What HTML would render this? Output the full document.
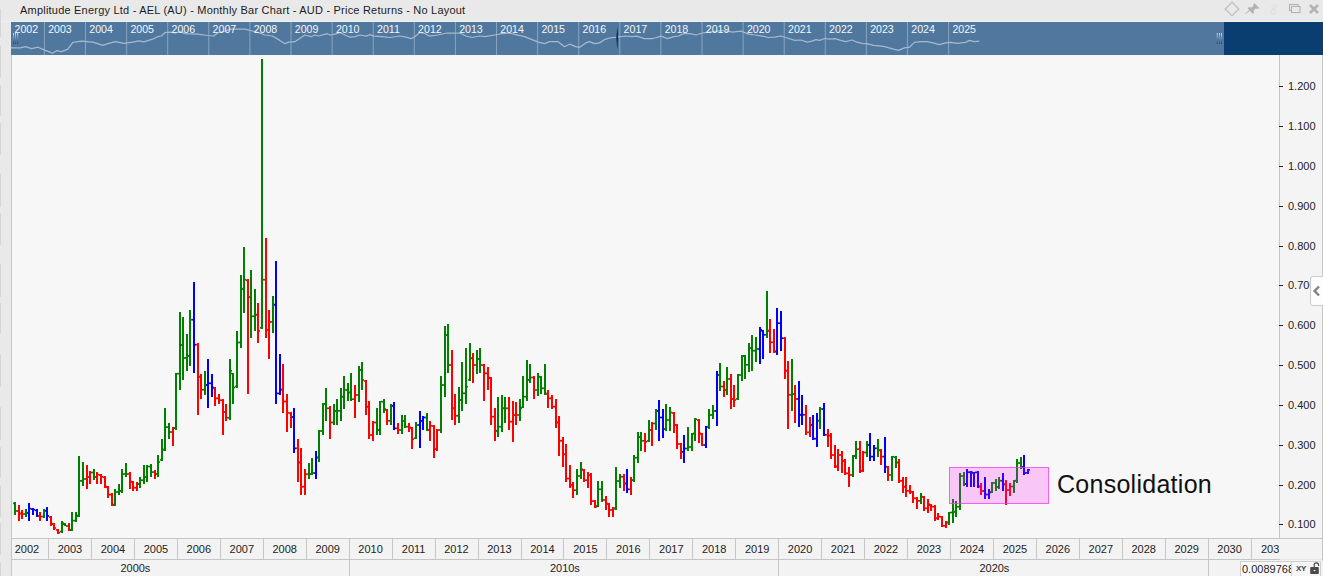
<!DOCTYPE html>
<html><head><meta charset="utf-8"><title>chart</title>
<style>
html,body{margin:0;padding:0;}
body{width:1323px;height:576px;overflow:hidden;background:#e9e9e9;position:relative;font-family:"Liberation Sans",sans-serif;color:#222;}
.abs{position:absolute;}
#title{left:20px;top:3px;font-size:11px;line-height:14px;white-space:nowrap;color:#1c1c1c;letter-spacing:0.21px;}
#nav{left:11px;top:22px;width:1312px;height:33px;background:#50789f;overflow:hidden;}
#navdark{left:1224px;top:22px;width:99px;height:33px;background:#0a3d70;}
.ny{position:absolute;top:0px;font-size:10.6px;line-height:15px;color:#f4f6f8;}
.nd{position:absolute;top:0;width:1px;height:33px;background:#8fa8c2;}
#plot{left:12px;top:55px;width:1267px;height:483px;background:#f7f7f7;}
#yaxis{left:1280px;top:55px;width:43px;height:483px;background:#f4f4f4;}
.yl{position:absolute;left:1288px;font-size:11px;line-height:12px;color:#222;white-space:nowrap;}
.yt{position:absolute;left:1279px;width:4px;height:1px;background:#222;}
#xrow{left:12px;top:539px;width:1311px;height:20px;background:#f3f3f3;}
#drow{left:12px;top:560px;width:1311px;height:16px;background:#f3f3f3;}
.xl{position:absolute;top:543px;width:40px;margin-left:-20px;text-align:center;font-size:11px;line-height:13px;color:#222;}
.dl{position:absolute;top:562px;width:40px;margin-left:-19px;text-align:center;font-size:11px;line-height:13px;color:#222;}
.xd{position:absolute;top:539px;width:1px;height:20px;background:#c6c6c6;}
.dd{position:absolute;top:560px;width:1px;height:16px;background:#c6c6c6;}
.ln{position:absolute;background:#c6c6c6;}
</style></head><body>
<div id="title" class="abs">Amplitude Energy Ltd - AEL (AU) - Monthly Bar Chart - AUD - Price Returns - No Layout</div>
<svg class="abs" style="left:1220px;top:0" width="103" height="21" viewBox="1220 0 103 21">
<path d="M1232 2.2 L1238.8 9 L1232 15.8 L1225.2 9 Z" fill="none" stroke="#b9b9b9" stroke-width="1.1"/>
<g fill="#b3b3b3" stroke="none"><path d="M1254.5 3.2 L1259.6 8.2 L1258 8.8 L1255.6 8.6 L1253.8 10.6 L1254 13.6 L1252.6 13.8 L1247.6 8.2 L1248.6 7.2 L1251.4 7.6 L1253.6 5.8 L1253.4 4 Z"/><path d="M1250.2 10.6 L1245.4 14 L1245.2 13.6 L1249.4 9.8 Z"/></g>
<g fill="none" stroke="#dcdcdc" stroke-width="0.9"><ellipse cx="1274.2" cy="6.6" rx="2.6" ry="1.5" transform="rotate(-35 1274.2 6.6)"/><ellipse cx="1273.4" cy="12" rx="2.3" ry="2.6"/></g>
<rect x="1289.5" y="4.5" width="8.5" height="6" fill="none" stroke="#b3b3b3" stroke-width="1.1"/>
<rect x="1291.5" y="6.5" width="8.5" height="6" fill="#e9e9e9" stroke="#b3b3b3" stroke-width="1.1"/>
<path d="M1310 5 L1318 13 M1318 5 L1310 13" stroke="#b3b3b3" stroke-width="2.6" fill="none"/>
</svg>
<div class="abs" style="left:0;top:21px;width:1323px;height:1px;background:#f0f0f0"></div>
<div class="abs" style="left:0;top:9px;width:1px;height:28px;background:#d6d6d6"></div>
<div class="abs" style="left:0;top:46px;width:1px;height:31.5px;background:#d6d6d6"></div>
<div class="abs" style="left:0;top:85px;width:1px;height:31px;background:#d6d6d6"></div>
<div class="abs" style="left:0;top:122.5px;width:1px;height:32.5px;background:#d6d6d6"></div>
<div class="abs" style="left:0;top:174px;width:1px;height:32.5px;background:#d6d6d6"></div>
<div class="abs" style="left:0;top:212.75px;width:1px;height:32.25px;background:#d6d6d6"></div>
<div class="abs" style="left:0;top:264px;width:1px;height:33px;background:#d6d6d6"></div>
<div class="abs" style="left:0;top:303px;width:1px;height:31px;background:#d6d6d6"></div>
<div class="abs" style="left:0;top:354px;width:1px;height:33px;background:#d6d6d6"></div>
<div class="abs" style="left:0;top:407px;width:1px;height:32.5px;background:#d6d6d6"></div>
<div class="abs" style="left:0;top:447px;width:1px;height:31px;background:#d6d6d6"></div>
<div class="abs" style="left:0;top:486px;width:1px;height:31px;background:#d6d6d6"></div>
<div class="abs" style="left:0;top:523px;width:1px;height:31.5px;background:#d6d6d6"></div>
<div class="abs" style="left:0;top:562px;width:1px;height:14px;background:#d6d6d6"></div>
<div id="nav" class="abs"></div><div id="navdark" class="abs"></div>
<svg class="abs" style="left:0;top:22px" width="1323" height="33" viewBox="0 22 1323 33">
<defs><linearGradient id="gd" x1="0" y1="0" x2="0" y2="1"><stop offset="0" stop-color="#e8eef4"/><stop offset="1" stop-color="#2a3038"/></linearGradient></defs>
<rect x="43.9" y="22" width="1" height="33" fill="#8aa4bf"/>
<rect x="85.0" y="22" width="1" height="33" fill="#8aa4bf"/>
<rect x="126.1" y="22" width="1" height="33" fill="#8aa4bf"/>
<rect x="167.2" y="22" width="1" height="33" fill="#8aa4bf"/>
<rect x="208.3" y="22" width="1" height="33" fill="#8aa4bf"/>
<rect x="249.4" y="22" width="1" height="33" fill="#8aa4bf"/>
<rect x="290.5" y="22" width="1" height="33" fill="#8aa4bf"/>
<rect x="331.6" y="22" width="1" height="33" fill="#8aa4bf"/>
<rect x="372.7" y="22" width="1" height="33" fill="#8aa4bf"/>
<rect x="413.8" y="22" width="1" height="33" fill="#8aa4bf"/>
<rect x="454.9" y="22" width="1" height="33" fill="#8aa4bf"/>
<rect x="496.0" y="22" width="1" height="33" fill="#8aa4bf"/>
<rect x="537.1" y="22" width="1" height="33" fill="#8aa4bf"/>
<rect x="578.2" y="22" width="1" height="33" fill="#8aa4bf"/>
<rect x="619.3" y="22" width="1" height="33" fill="#8aa4bf"/>
<rect x="660.4" y="22" width="1" height="33" fill="#8aa4bf"/>
<rect x="701.5" y="22" width="1" height="33" fill="#8aa4bf"/>
<rect x="742.6" y="22" width="1" height="33" fill="#8aa4bf"/>
<rect x="783.7" y="22" width="1" height="33" fill="#8aa4bf"/>
<rect x="824.8" y="22" width="1" height="33" fill="#8aa4bf"/>
<rect x="865.9" y="22" width="1" height="33" fill="#8aa4bf"/>
<rect x="907.0" y="22" width="1" height="33" fill="#8aa4bf"/>
<rect x="948.1" y="22" width="1" height="33" fill="#8aa4bf"/>
<polyline fill="none" stroke="#a5b9ce" stroke-width="1.25" stroke-linejoin="round" points="11.0,47.9 20.5,47.9 25.5,46.7 31.7,48.7 37.9,47.2 45.4,50.4 52.4,53.2 56.6,50.7 61.6,51.7 67.9,49.2 72.9,42.4 81.6,41.2 92.8,42.2 102.8,45.4 107.8,43.7 115.3,41.7 124.0,43.4 132.7,42.2 139.0,40.9 143.9,41.9 152.7,39.2 157.7,36.7 161.4,36.0 165.1,32.5 170.1,32.2 175.1,33.0 180.1,31.7 185.1,33.7 197.6,34.2 207.6,35.5 213.8,36.0 217.5,33.0 225.0,31.0 230.0,29.2 245.0,29.2 252.4,31.0 259.9,33.0 264.9,35.0 272.4,36.0 279.9,40.4 284.9,43.7 288.6,42.2 294.9,41.7 304.8,35.0 311.1,36.7 314.8,35.0 318.6,36.0 327.3,33.7 330.0,35.0 335.0,34.2 340.0,32.5 345.0,35.0 350.0,37.2 354.9,36.7 359.9,35.0 366.2,36.2 369.9,34.7 373.7,36.2 382.4,36.7 389.9,37.5 399.8,36.0 406.1,37.2 411.1,38.7 414.8,36.7 419.8,32.5 424.8,33.5 429.8,36.2 437.3,35.0 447.2,33.0 459.7,33.0 465.9,36.0 472.2,37.5 479.7,36.0 484.7,36.7 494.6,35.0 502.1,33.7 509.6,33.0 515.8,34.7 524.6,36.7 532.0,39.7 538.3,42.2 544.5,43.7 549.5,41.7 558.2,41.7 564.5,46.7 569.5,44.2 575.7,46.7 579.4,47.4 585.7,42.9 589.4,41.7 594.4,43.7 599.4,42.9 604.4,39.7 609.4,38.0 616.9,37.2 625.6,36.0 631.8,36.7 636.8,36.2 644.3,38.7 651.8,38.7 655.0,38.0 661.2,36.2 667.5,38.7 673.7,36.7 678.7,36.0 683.7,33.5 689.9,33.7 696.2,35.0 702.4,33.0 708.6,32.2 717.4,31.2 724.8,30.5 732.3,32.2 741.1,31.2 748.5,34.2 754.8,35.0 762.3,36.2 768.5,37.5 774.7,37.2 781.0,36.0 787.2,38.0 794.7,40.4 800.9,40.0 807.2,42.2 812.1,41.2 815.9,39.7 819.6,40.4 824.6,38.5 829.6,39.2 834.6,38.7 840.8,40.4 845.8,41.7 852.1,40.0 857.0,42.2 862.0,43.4 867.0,43.7 873.3,45.4 879.5,45.9 884.5,46.7 890.7,48.4 898.2,50.4 904.4,47.9 909.4,47.2 914.4,42.4 920.7,41.7 926.9,41.7 933.1,42.9 939.4,44.7 945.6,42.9 950.6,42.4 958.1,43.4 965.6,42.4 969.3,40.4 974.3,41.7 979.3,41.2"/>
<rect x="13.1" y="33" width="0.8" height="11" fill="url(#gd)"/>
<rect x="15.2" y="33" width="0.8" height="11" fill="url(#gd)"/>
<rect x="17.3" y="33" width="0.8" height="11" fill="url(#gd)"/>
<rect x="1216.8" y="33" width="0.8" height="11" fill="url(#gd)"/>
<rect x="1219.0" y="33" width="0.8" height="11" fill="url(#gd)"/>
<rect x="1221.2" y="33" width="0.8" height="11" fill="url(#gd)"/>
<polygon points="617.2,26.5 618,37.5 617.2,49.5 616.4,37.5" fill="#08121e" opacity="0.9"/>
</svg>
<div class="ny abs" style="left:14.5px;top:22px">2002</div>
<div class="ny abs" style="left:48.2px;top:22px">2003</div>
<div class="ny abs" style="left:89.3px;top:22px">2004</div>
<div class="ny abs" style="left:130.4px;top:22px">2005</div>
<div class="ny abs" style="left:171.5px;top:22px">2006</div>
<div class="ny abs" style="left:212.6px;top:22px">2007</div>
<div class="ny abs" style="left:253.7px;top:22px">2008</div>
<div class="ny abs" style="left:294.8px;top:22px">2009</div>
<div class="ny abs" style="left:335.9px;top:22px">2010</div>
<div class="ny abs" style="left:377.0px;top:22px">2011</div>
<div class="ny abs" style="left:418.1px;top:22px">2012</div>
<div class="ny abs" style="left:459.2px;top:22px">2013</div>
<div class="ny abs" style="left:500.3px;top:22px">2014</div>
<div class="ny abs" style="left:541.4px;top:22px">2015</div>
<div class="ny abs" style="left:582.5px;top:22px">2016</div>
<div class="ny abs" style="left:623.6px;top:22px">2017</div>
<div class="ny abs" style="left:664.7px;top:22px">2018</div>
<div class="ny abs" style="left:705.8px;top:22px">2019</div>
<div class="ny abs" style="left:746.9px;top:22px">2020</div>
<div class="ny abs" style="left:788.0px;top:22px">2021</div>
<div class="ny abs" style="left:829.1px;top:22px">2022</div>
<div class="ny abs" style="left:870.2px;top:22px">2023</div>
<div class="ny abs" style="left:911.3px;top:22px">2024</div>
<div class="ny abs" style="left:952.4px;top:22px">2025</div>
<div id="plot" class="abs"></div><div id="yaxis" class="abs"></div>
<div id="xrow" class="abs"></div><div id="drow" class="abs"></div>
<div class="ln" style="left:11px;top:55px;width:1px;height:521px;"></div>
<div class="ln" style="left:1279px;top:55px;width:1px;height:484px;"></div>
<div class="ln" style="left:1322px;top:55px;width:1px;height:506px;"></div>
<div class="ln" style="left:11px;top:538px;width:1312px;height:1px;"></div>
<div class="ln" style="left:11px;top:559px;width:1269px;height:1px;"></div>
<div class="yt" style="top:524px"></div>
<div class="yl" style="top:518.2px">0.100</div>
<div class="yt" style="top:485px"></div>
<div class="yl" style="top:479.2px">0.200</div>
<div class="yt" style="top:445px"></div>
<div class="yl" style="top:439.2px">0.300</div>
<div class="yt" style="top:405px"></div>
<div class="yl" style="top:399.2px">0.400</div>
<div class="yt" style="top:365px"></div>
<div class="yl" style="top:359.2px">0.500</div>
<div class="yt" style="top:325px"></div>
<div class="yl" style="top:319.2px">0.600</div>
<div class="yt" style="top:285px"></div>
<div class="yl" style="top:279.2px">0.700</div>
<div class="yt" style="top:246px"></div>
<div class="yl" style="top:240.2px">0.800</div>
<div class="yt" style="top:206px"></div>
<div class="yl" style="top:200.2px">0.900</div>
<div class="yt" style="top:166px"></div>
<div class="yl" style="top:160.2px">1.000</div>
<div class="yt" style="top:126px"></div>
<div class="yl" style="top:120.2px">1.100</div>
<div class="yt" style="top:86px"></div>
<div class="yl" style="top:80.2px">1.200</div>
<div class="xd" style="left:48.0px"></div>
<div class="xd" style="left:91.0px"></div>
<div class="xd" style="left:133.9px"></div>
<div class="xd" style="left:176.9px"></div>
<div class="xd" style="left:219.8px"></div>
<div class="xd" style="left:262.8px"></div>
<div class="xd" style="left:305.7px"></div>
<div class="xd" style="left:348.7px"></div>
<div class="xd" style="left:391.6px"></div>
<div class="xd" style="left:434.6px"></div>
<div class="xd" style="left:477.5px"></div>
<div class="xd" style="left:520.5px"></div>
<div class="xd" style="left:563.4px"></div>
<div class="xd" style="left:606.4px"></div>
<div class="xd" style="left:649.3px"></div>
<div class="xd" style="left:692.2px"></div>
<div class="xd" style="left:735.2px"></div>
<div class="xd" style="left:778.2px"></div>
<div class="xd" style="left:821.1px"></div>
<div class="xd" style="left:864.1px"></div>
<div class="xd" style="left:907.0px"></div>
<div class="xd" style="left:950.0px"></div>
<div class="xd" style="left:992.9px"></div>
<div class="xd" style="left:1035.8px"></div>
<div class="xd" style="left:1078.8px"></div>
<div class="xd" style="left:1121.8px"></div>
<div class="xd" style="left:1164.7px"></div>
<div class="xd" style="left:1207.7px"></div>
<div class="xd" style="left:1250.6px"></div>
<div class="xl" style="left:27.0px">2002</div>
<div class="xl" style="left:70.0px">2003</div>
<div class="xl" style="left:112.9px">2004</div>
<div class="xl" style="left:155.9px">2005</div>
<div class="xl" style="left:198.8px">2006</div>
<div class="xl" style="left:241.8px">2007</div>
<div class="xl" style="left:284.7px">2008</div>
<div class="xl" style="left:327.7px">2009</div>
<div class="xl" style="left:370.6px">2010</div>
<div class="xl" style="left:413.6px">2011</div>
<div class="xl" style="left:456.5px">2012</div>
<div class="xl" style="left:499.5px">2013</div>
<div class="xl" style="left:542.4px">2014</div>
<div class="xl" style="left:585.4px">2015</div>
<div class="xl" style="left:628.3px">2016</div>
<div class="xl" style="left:671.3px">2017</div>
<div class="xl" style="left:714.2px">2018</div>
<div class="xl" style="left:757.2px">2019</div>
<div class="xl" style="left:800.1px">2020</div>
<div class="xl" style="left:843.1px">2021</div>
<div class="xl" style="left:886.0px">2022</div>
<div class="xl" style="left:929.0px">2023</div>
<div class="xl" style="left:971.9px">2024</div>
<div class="xl" style="left:1014.9px">2025</div>
<div class="xl" style="left:1057.8px">2026</div>
<div class="xl" style="left:1100.8px">2027</div>
<div class="xl" style="left:1143.7px">2028</div>
<div class="xl" style="left:1186.7px">2029</div>
<div class="xl" style="left:1229.6px">2030</div>
<div class="abs" style="left:1261px;top:543px;width:18px;overflow:hidden;font-size:11px;line-height:13px;white-space:nowrap">2031</div>
<div class="dd" style="left:348.7px"></div>
<div class="dd" style="left:778.2px"></div>
<div class="dd" style="left:1207.7px"></div>
<div class="dl" style="left:134.4px">2000s</div>
<div class="dl" style="left:563.9px">2010s</div>
<div class="dl" style="left:993.4px">2020s</div>
<svg class="abs" style="left:0;top:55px" width="1279" height="483" viewBox="0 55 1279 483" shape-rendering="crispEdges">
<rect x="14" y="502.4" width="2" height="13.0" fill="#007f00"/>
<rect x="13" y="502.55" width="1" height="1.7" fill="#007f00" shape-rendering="auto"/>
<rect x="16" y="510.15" width="1" height="1.7" fill="#007f00" shape-rendering="auto"/>
<rect x="18" y="505.0" width="2" height="15.6" fill="#ff0000"/>
<rect x="17" y="510.15" width="1" height="1.7" fill="#ff0000" shape-rendering="auto"/>
<rect x="20" y="512.65" width="1" height="1.7" fill="#ff0000" shape-rendering="auto"/>
<rect x="21" y="510.2" width="2" height="8.3" fill="#ff0000"/>
<rect x="20" y="512.65" width="1" height="1.7" fill="#ff0000" shape-rendering="auto"/>
<rect x="23" y="513.15" width="1" height="1.7" fill="#ff0000" shape-rendering="auto"/>
<rect x="25" y="509.2" width="2" height="7.3" fill="#007f00"/>
<rect x="24" y="513.15" width="1" height="1.7" fill="#007f00" shape-rendering="auto"/>
<rect x="27" y="511.95" width="1" height="1.7" fill="#007f00" shape-rendering="auto"/>
<rect x="28" y="503.1" width="2" height="17.5" fill="#0000ff"/>
<rect x="27" y="511.95" width="1" height="1.7" fill="#0000ff" shape-rendering="auto"/>
<rect x="30" y="507.75" width="1" height="1.7" fill="#0000ff" shape-rendering="auto"/>
<rect x="32" y="508.1" width="2" height="7.3" fill="#0000ff"/>
<rect x="31" y="508.25" width="1" height="1.7" fill="#0000ff" shape-rendering="auto"/>
<rect x="34" y="508.85" width="1" height="1.7" fill="#0000ff" shape-rendering="auto"/>
<rect x="36" y="509.4" width="2" height="7.1" fill="#0000ff"/>
<rect x="35" y="509.55" width="1" height="1.7" fill="#0000ff" shape-rendering="auto"/>
<rect x="38" y="515.15" width="1" height="1.7" fill="#0000ff" shape-rendering="auto"/>
<rect x="39" y="512.3" width="2" height="8.3" fill="#ff0000"/>
<rect x="38" y="515.15" width="1" height="1.7" fill="#ff0000" shape-rendering="auto"/>
<rect x="41" y="515.65" width="1" height="1.7" fill="#ff0000" shape-rendering="auto"/>
<rect x="43" y="509.2" width="2" height="8.3" fill="#007f00"/>
<rect x="42" y="515.65" width="1" height="1.7" fill="#007f00" shape-rendering="auto"/>
<rect x="45" y="509.85" width="1" height="1.7" fill="#007f00" shape-rendering="auto"/>
<rect x="46" y="507.1" width="2" height="13.5" fill="#0000ff"/>
<rect x="45" y="509.85" width="1" height="1.7" fill="#0000ff" shape-rendering="auto"/>
<rect x="48" y="515.15" width="1" height="1.7" fill="#0000ff" shape-rendering="auto"/>
<rect x="50" y="516.1" width="2" height="10.3" fill="#ff0000"/>
<rect x="49" y="516.25" width="1" height="1.7" fill="#ff0000" shape-rendering="auto"/>
<rect x="52" y="522.90" width="1" height="1.7" fill="#ff0000" shape-rendering="auto"/>
<rect x="53" y="523.2" width="2" height="6.3" fill="#ff0000"/>
<rect x="52" y="523.35" width="1" height="1.7" fill="#ff0000" shape-rendering="auto"/>
<rect x="55" y="527.15" width="1" height="1.7" fill="#ff0000" shape-rendering="auto"/>
<rect x="57" y="529.0" width="2" height="4.6" fill="#ff0000"/>
<rect x="56" y="529.15" width="1" height="1.7" fill="#ff0000" shape-rendering="auto"/>
<rect x="59" y="531.75" width="1" height="1.7" fill="#ff0000" shape-rendering="auto"/>
<rect x="61" y="521.4" width="2" height="11.2" fill="#007f00"/>
<rect x="60" y="530.75" width="1" height="1.7" fill="#007f00" shape-rendering="auto"/>
<rect x="63" y="522.35" width="1" height="1.7" fill="#007f00" shape-rendering="auto"/>
<rect x="64" y="523.2" width="2" height="3.2" fill="#007f00"/>
<rect x="63" y="523.35" width="1" height="1.7" fill="#007f00" shape-rendering="auto"/>
<rect x="66" y="525.15" width="1" height="1.7" fill="#007f00" shape-rendering="auto"/>
<rect x="68" y="523.2" width="2" height="7.5" fill="#ff0000"/>
<rect x="67" y="525.15" width="1" height="1.7" fill="#ff0000" shape-rendering="auto"/>
<rect x="70" y="529.15" width="1" height="1.7" fill="#ff0000" shape-rendering="auto"/>
<rect x="71" y="512.3" width="2" height="18.4" fill="#007f00"/>
<rect x="70" y="528.85" width="1" height="1.7" fill="#007f00" shape-rendering="auto"/>
<rect x="73" y="519.75" width="1" height="1.7" fill="#007f00" shape-rendering="auto"/>
<rect x="75" y="512.3" width="2" height="9.4" fill="#007f00"/>
<rect x="74" y="519.75" width="1" height="1.7" fill="#007f00" shape-rendering="auto"/>
<rect x="77" y="515.15" width="1" height="1.7" fill="#007f00" shape-rendering="auto"/>
<rect x="78" y="456.1" width="2" height="60.4" fill="#007f00"/>
<rect x="77" y="514.65" width="1" height="1.7" fill="#007f00" shape-rendering="auto"/>
<rect x="80" y="480.05" width="1" height="1.7" fill="#007f00" shape-rendering="auto"/>
<rect x="82" y="462.1" width="2" height="23.8" fill="#007f00"/>
<rect x="81" y="480.05" width="1" height="1.7" fill="#007f00" shape-rendering="auto"/>
<rect x="84" y="478.15" width="1" height="1.7" fill="#007f00" shape-rendering="auto"/>
<rect x="86" y="465.2" width="2" height="23.4" fill="#ff0000"/>
<rect x="85" y="478.15" width="1" height="1.7" fill="#ff0000" shape-rendering="auto"/>
<rect x="88" y="476.15" width="1" height="1.7" fill="#ff0000" shape-rendering="auto"/>
<rect x="89" y="471.2" width="2" height="12.5" fill="#ff0000"/>
<rect x="88" y="476.15" width="1" height="1.7" fill="#ff0000" shape-rendering="auto"/>
<rect x="91" y="471.65" width="1" height="1.7" fill="#ff0000" shape-rendering="auto"/>
<rect x="93" y="469.0" width="2" height="10.6" fill="#007f00"/>
<rect x="92" y="471.65" width="1" height="1.7" fill="#007f00" shape-rendering="auto"/>
<rect x="95" y="476.15" width="1" height="1.7" fill="#007f00" shape-rendering="auto"/>
<rect x="96" y="472.0" width="2" height="11.8" fill="#ff0000"/>
<rect x="95" y="476.15" width="1" height="1.7" fill="#ff0000" shape-rendering="auto"/>
<rect x="98" y="473.75" width="1" height="1.7" fill="#ff0000" shape-rendering="auto"/>
<rect x="100" y="474.0" width="2" height="9.8" fill="#ff0000"/>
<rect x="99" y="474.15" width="1" height="1.7" fill="#ff0000" shape-rendering="auto"/>
<rect x="102" y="475.90" width="1" height="1.7" fill="#ff0000" shape-rendering="auto"/>
<rect x="104" y="476.2" width="2" height="11.5" fill="#ff0000"/>
<rect x="103" y="476.40" width="1" height="1.7" fill="#ff0000" shape-rendering="auto"/>
<rect x="106" y="485.65" width="1" height="1.7" fill="#ff0000" shape-rendering="auto"/>
<rect x="107" y="486.2" width="2" height="11.5" fill="#ff0000"/>
<rect x="106" y="486.40" width="1" height="1.7" fill="#ff0000" shape-rendering="auto"/>
<rect x="109" y="493.75" width="1" height="1.7" fill="#ff0000" shape-rendering="auto"/>
<rect x="111" y="493.1" width="2" height="12.5" fill="#ff0000"/>
<rect x="110" y="493.75" width="1" height="1.7" fill="#ff0000" shape-rendering="auto"/>
<rect x="113" y="504.15" width="1" height="1.7" fill="#ff0000" shape-rendering="auto"/>
<rect x="114" y="489.0" width="2" height="16.6" fill="#007f00"/>
<rect x="113" y="503.75" width="1" height="1.7" fill="#007f00" shape-rendering="auto"/>
<rect x="116" y="491.15" width="1" height="1.7" fill="#007f00" shape-rendering="auto"/>
<rect x="118" y="484.0" width="2" height="10.9" fill="#007f00"/>
<rect x="117" y="491.15" width="1" height="1.7" fill="#007f00" shape-rendering="auto"/>
<rect x="120" y="490.15" width="1" height="1.7" fill="#007f00" shape-rendering="auto"/>
<rect x="121" y="469.0" width="2" height="23.8" fill="#007f00"/>
<rect x="120" y="490.15" width="1" height="1.7" fill="#007f00" shape-rendering="auto"/>
<rect x="123" y="473.15" width="1" height="1.7" fill="#007f00" shape-rendering="auto"/>
<rect x="125" y="463.0" width="2" height="13.8" fill="#007f00"/>
<rect x="124" y="473.15" width="1" height="1.7" fill="#007f00" shape-rendering="auto"/>
<rect x="127" y="473.15" width="1" height="1.7" fill="#007f00" shape-rendering="auto"/>
<rect x="129" y="472.1" width="2" height="16.5" fill="#ff0000"/>
<rect x="128" y="473.15" width="1" height="1.7" fill="#ff0000" shape-rendering="auto"/>
<rect x="131" y="480.65" width="1" height="1.7" fill="#ff0000" shape-rendering="auto"/>
<rect x="132" y="481.1" width="2" height="9.8" fill="#ff0000"/>
<rect x="131" y="481.25" width="1" height="1.7" fill="#ff0000" shape-rendering="auto"/>
<rect x="134" y="486.90" width="1" height="1.7" fill="#ff0000" shape-rendering="auto"/>
<rect x="136" y="482.1" width="2" height="8.8" fill="#ff0000"/>
<rect x="135" y="486.90" width="1" height="1.7" fill="#ff0000" shape-rendering="auto"/>
<rect x="138" y="483.15" width="1" height="1.7" fill="#ff0000" shape-rendering="auto"/>
<rect x="139" y="477.1" width="2" height="10.6" fill="#007f00"/>
<rect x="138" y="483.15" width="1" height="1.7" fill="#007f00" shape-rendering="auto"/>
<rect x="141" y="479.40" width="1" height="1.7" fill="#007f00" shape-rendering="auto"/>
<rect x="143" y="465.0" width="2" height="18.8" fill="#007f00"/>
<rect x="142" y="479.40" width="1" height="1.7" fill="#007f00" shape-rendering="auto"/>
<rect x="145" y="476.25" width="1" height="1.7" fill="#007f00" shape-rendering="auto"/>
<rect x="146" y="465.0" width="2" height="16.9" fill="#007f00"/>
<rect x="145" y="476.25" width="1" height="1.7" fill="#007f00" shape-rendering="auto"/>
<rect x="148" y="465.65" width="1" height="1.7" fill="#007f00" shape-rendering="auto"/>
<rect x="150" y="464.0" width="2" height="12.8" fill="#007f00"/>
<rect x="149" y="465.65" width="1" height="1.7" fill="#007f00" shape-rendering="auto"/>
<rect x="152" y="471.25" width="1" height="1.7" fill="#007f00" shape-rendering="auto"/>
<rect x="154" y="470.0" width="2" height="8.8" fill="#ff0000"/>
<rect x="153" y="471.25" width="1" height="1.7" fill="#ff0000" shape-rendering="auto"/>
<rect x="156" y="473.15" width="1" height="1.7" fill="#ff0000" shape-rendering="auto"/>
<rect x="157" y="455.0" width="2" height="21.8" fill="#007f00"/>
<rect x="156" y="473.15" width="1" height="1.7" fill="#007f00" shape-rendering="auto"/>
<rect x="159" y="461.25" width="1" height="1.7" fill="#007f00" shape-rendering="auto"/>
<rect x="161" y="439.0" width="2" height="21.9" fill="#007f00"/>
<rect x="160" y="459.05" width="1" height="1.7" fill="#007f00" shape-rendering="auto"/>
<rect x="163" y="448.75" width="1" height="1.7" fill="#007f00" shape-rendering="auto"/>
<rect x="164" y="408.0" width="2" height="42.9" fill="#007f00"/>
<rect x="163" y="448.75" width="1" height="1.7" fill="#007f00" shape-rendering="auto"/>
<rect x="166" y="426.25" width="1" height="1.7" fill="#007f00" shape-rendering="auto"/>
<rect x="168" y="423.4" width="2" height="15.2" fill="#007f00"/>
<rect x="167" y="426.25" width="1" height="1.7" fill="#007f00" shape-rendering="auto"/>
<rect x="170" y="431.15" width="1" height="1.7" fill="#007f00" shape-rendering="auto"/>
<rect x="172" y="427.1" width="2" height="18.5" fill="#ff0000"/>
<rect x="171" y="431.15" width="1" height="1.7" fill="#ff0000" shape-rendering="auto"/>
<rect x="174" y="427.15" width="1" height="1.7" fill="#ff0000" shape-rendering="auto"/>
<rect x="175" y="373.0" width="2" height="56.6" fill="#007f00"/>
<rect x="174" y="427.15" width="1" height="1.7" fill="#007f00" shape-rendering="auto"/>
<rect x="177" y="372.85" width="1" height="1.7" fill="#007f00" shape-rendering="auto"/>
<rect x="179" y="312.2" width="2" height="77.5" fill="#007f00"/>
<rect x="178" y="372.85" width="1" height="1.7" fill="#007f00" shape-rendering="auto"/>
<rect x="181" y="344.15" width="1" height="1.7" fill="#007f00" shape-rendering="auto"/>
<rect x="182" y="317.2" width="2" height="62.5" fill="#007f00"/>
<rect x="181" y="344.15" width="1" height="1.7" fill="#007f00" shape-rendering="auto"/>
<rect x="184" y="357.15" width="1" height="1.7" fill="#007f00" shape-rendering="auto"/>
<rect x="186" y="334.2" width="2" height="36.6" fill="#007f00"/>
<rect x="185" y="357.15" width="1" height="1.7" fill="#007f00" shape-rendering="auto"/>
<rect x="188" y="355.15" width="1" height="1.7" fill="#007f00" shape-rendering="auto"/>
<rect x="189" y="310.0" width="2" height="55.8" fill="#007f00"/>
<rect x="188" y="355.15" width="1" height="1.7" fill="#007f00" shape-rendering="auto"/>
<rect x="191" y="318.85" width="1" height="1.7" fill="#007f00" shape-rendering="auto"/>
<rect x="193" y="282.2" width="2" height="90.8" fill="#0000ff"/>
<rect x="192" y="318.85" width="1" height="1.7" fill="#0000ff" shape-rendering="auto"/>
<rect x="195" y="343.85" width="1" height="1.7" fill="#0000ff" shape-rendering="auto"/>
<rect x="197" y="343.0" width="2" height="72.0" fill="#ff0000"/>
<rect x="196" y="343.85" width="1" height="1.7" fill="#ff0000" shape-rendering="auto"/>
<rect x="199" y="375.85" width="1" height="1.7" fill="#ff0000" shape-rendering="auto"/>
<rect x="200" y="374.2" width="2" height="24.6" fill="#ff0000"/>
<rect x="199" y="375.85" width="1" height="1.7" fill="#ff0000" shape-rendering="auto"/>
<rect x="202" y="388.85" width="1" height="1.7" fill="#ff0000" shape-rendering="auto"/>
<rect x="204" y="370.8" width="2" height="24.2" fill="#007f00"/>
<rect x="203" y="388.85" width="1" height="1.7" fill="#007f00" shape-rendering="auto"/>
<rect x="206" y="384.15" width="1" height="1.7" fill="#007f00" shape-rendering="auto"/>
<rect x="207" y="359.2" width="2" height="48.6" fill="#0000ff"/>
<rect x="206" y="384.15" width="1" height="1.7" fill="#0000ff" shape-rendering="auto"/>
<rect x="209" y="382.45" width="1" height="1.7" fill="#0000ff" shape-rendering="auto"/>
<rect x="211" y="374.2" width="2" height="22.5" fill="#0000ff"/>
<rect x="210" y="382.45" width="1" height="1.7" fill="#0000ff" shape-rendering="auto"/>
<rect x="213" y="386.65" width="1" height="1.7" fill="#0000ff" shape-rendering="auto"/>
<rect x="214" y="387.2" width="2" height="18.6" fill="#ff0000"/>
<rect x="213" y="387.35" width="1" height="1.7" fill="#ff0000" shape-rendering="auto"/>
<rect x="216" y="397.45" width="1" height="1.7" fill="#ff0000" shape-rendering="auto"/>
<rect x="218" y="394.2" width="2" height="10.0" fill="#ff0000"/>
<rect x="217" y="397.45" width="1" height="1.7" fill="#ff0000" shape-rendering="auto"/>
<rect x="220" y="399.40" width="1" height="1.7" fill="#ff0000" shape-rendering="auto"/>
<rect x="222" y="399.2" width="2" height="35.4" fill="#ff0000"/>
<rect x="221" y="399.40" width="1" height="1.7" fill="#ff0000" shape-rendering="auto"/>
<rect x="224" y="411.15" width="1" height="1.7" fill="#ff0000" shape-rendering="auto"/>
<rect x="225" y="404.2" width="2" height="16.6" fill="#ff0000"/>
<rect x="224" y="411.15" width="1" height="1.7" fill="#ff0000" shape-rendering="auto"/>
<rect x="227" y="416.90" width="1" height="1.7" fill="#ff0000" shape-rendering="auto"/>
<rect x="229" y="359.2" width="2" height="60.8" fill="#007f00"/>
<rect x="228" y="416.90" width="1" height="1.7" fill="#007f00" shape-rendering="auto"/>
<rect x="231" y="369.95" width="1" height="1.7" fill="#007f00" shape-rendering="auto"/>
<rect x="232" y="372.5" width="2" height="31.3" fill="#007f00"/>
<rect x="231" y="372.65" width="1" height="1.7" fill="#007f00" shape-rendering="auto"/>
<rect x="234" y="386.65" width="1" height="1.7" fill="#007f00" shape-rendering="auto"/>
<rect x="236" y="331.3" width="2" height="56.2" fill="#007f00"/>
<rect x="235" y="385.65" width="1" height="1.7" fill="#007f00" shape-rendering="auto"/>
<rect x="238" y="341.65" width="1" height="1.7" fill="#007f00" shape-rendering="auto"/>
<rect x="240" y="275.0" width="2" height="73.0" fill="#007f00"/>
<rect x="239" y="341.65" width="1" height="1.7" fill="#007f00" shape-rendering="auto"/>
<rect x="242" y="287.95" width="1" height="1.7" fill="#007f00" shape-rendering="auto"/>
<rect x="243" y="247.2" width="2" height="65.5" fill="#007f00"/>
<rect x="242" y="287.95" width="1" height="1.7" fill="#007f00" shape-rendering="auto"/>
<rect x="245" y="278.85" width="1" height="1.7" fill="#007f00" shape-rendering="auto"/>
<rect x="247" y="279.3" width="2" height="114.5" fill="#ff0000"/>
<rect x="246" y="279.45" width="1" height="1.7" fill="#ff0000" shape-rendering="auto"/>
<rect x="249" y="296.35" width="1" height="1.7" fill="#ff0000" shape-rendering="auto"/>
<rect x="250" y="270.0" width="2" height="68.0" fill="#007f00"/>
<rect x="249" y="296.35" width="1" height="1.7" fill="#007f00" shape-rendering="auto"/>
<rect x="252" y="315.45" width="1" height="1.7" fill="#007f00" shape-rendering="auto"/>
<rect x="254" y="289.3" width="2" height="41.2" fill="#007f00"/>
<rect x="253" y="315.45" width="1" height="1.7" fill="#007f00" shape-rendering="auto"/>
<rect x="256" y="313.85" width="1" height="1.7" fill="#007f00" shape-rendering="auto"/>
<rect x="257" y="303.0" width="2" height="40.0" fill="#ff0000"/>
<rect x="256" y="313.85" width="1" height="1.7" fill="#ff0000" shape-rendering="auto"/>
<rect x="259" y="330.15" width="1" height="1.7" fill="#ff0000" shape-rendering="auto"/>
<rect x="261" y="58.8" width="2" height="270.0" fill="#007f00"/>
<rect x="260" y="326.95" width="1" height="1.7" fill="#007f00" shape-rendering="auto"/>
<rect x="263" y="278.85" width="1" height="1.7" fill="#007f00" shape-rendering="auto"/>
<rect x="265" y="238.0" width="2" height="100.0" fill="#ff0000"/>
<rect x="264" y="278.85" width="1" height="1.7" fill="#ff0000" shape-rendering="auto"/>
<rect x="267" y="328.95" width="1" height="1.7" fill="#ff0000" shape-rendering="auto"/>
<rect x="268" y="310.0" width="2" height="49.2" fill="#ff0000"/>
<rect x="267" y="328.95" width="1" height="1.7" fill="#ff0000" shape-rendering="auto"/>
<rect x="270" y="321.15" width="1" height="1.7" fill="#ff0000" shape-rendering="auto"/>
<rect x="272" y="296.3" width="2" height="36.4" fill="#007f00"/>
<rect x="271" y="321.15" width="1" height="1.7" fill="#007f00" shape-rendering="auto"/>
<rect x="274" y="303.85" width="1" height="1.7" fill="#007f00" shape-rendering="auto"/>
<rect x="275" y="261.0" width="2" height="142.8" fill="#0000ff"/>
<rect x="274" y="303.85" width="1" height="1.7" fill="#0000ff" shape-rendering="auto"/>
<rect x="277" y="392.55" width="1" height="1.7" fill="#0000ff" shape-rendering="auto"/>
<rect x="279" y="354.2" width="2" height="40.8" fill="#0000ff"/>
<rect x="278" y="392.55" width="1" height="1.7" fill="#0000ff" shape-rendering="auto"/>
<rect x="281" y="388.75" width="1" height="1.7" fill="#0000ff" shape-rendering="auto"/>
<rect x="282" y="364.2" width="2" height="48.8" fill="#ff0000"/>
<rect x="281" y="388.75" width="1" height="1.7" fill="#ff0000" shape-rendering="auto"/>
<rect x="284" y="400.65" width="1" height="1.7" fill="#ff0000" shape-rendering="auto"/>
<rect x="286" y="394.2" width="2" height="37.3" fill="#ff0000"/>
<rect x="285" y="400.65" width="1" height="1.7" fill="#ff0000" shape-rendering="auto"/>
<rect x="288" y="411.90" width="1" height="1.7" fill="#ff0000" shape-rendering="auto"/>
<rect x="290" y="412.2" width="2" height="15.4" fill="#ff0000"/>
<rect x="289" y="412.35" width="1" height="1.7" fill="#ff0000" shape-rendering="auto"/>
<rect x="292" y="416.15" width="1" height="1.7" fill="#ff0000" shape-rendering="auto"/>
<rect x="293" y="408.0" width="2" height="45.0" fill="#0000ff"/>
<rect x="292" y="416.15" width="1" height="1.7" fill="#0000ff" shape-rendering="auto"/>
<rect x="295" y="447.45" width="1" height="1.7" fill="#0000ff" shape-rendering="auto"/>
<rect x="297" y="439.2" width="2" height="42.5" fill="#ff0000"/>
<rect x="296" y="447.45" width="1" height="1.7" fill="#ff0000" shape-rendering="auto"/>
<rect x="299" y="461.65" width="1" height="1.7" fill="#ff0000" shape-rendering="auto"/>
<rect x="300" y="448.0" width="2" height="46.7" fill="#ff0000"/>
<rect x="299" y="461.65" width="1" height="1.7" fill="#ff0000" shape-rendering="auto"/>
<rect x="302" y="485.85" width="1" height="1.7" fill="#ff0000" shape-rendering="auto"/>
<rect x="304" y="469.2" width="2" height="25.5" fill="#ff0000"/>
<rect x="303" y="485.85" width="1" height="1.7" fill="#ff0000" shape-rendering="auto"/>
<rect x="306" y="473.35" width="1" height="1.7" fill="#ff0000" shape-rendering="auto"/>
<rect x="308" y="463.0" width="2" height="15.8" fill="#007f00"/>
<rect x="307" y="473.35" width="1" height="1.7" fill="#007f00" shape-rendering="auto"/>
<rect x="310" y="473.15" width="1" height="1.7" fill="#007f00" shape-rendering="auto"/>
<rect x="311" y="458.0" width="2" height="17.0" fill="#007f00"/>
<rect x="310" y="473.15" width="1" height="1.7" fill="#007f00" shape-rendering="auto"/>
<rect x="313" y="472.15" width="1" height="1.7" fill="#007f00" shape-rendering="auto"/>
<rect x="315" y="450.8" width="2" height="28.0" fill="#0000ff"/>
<rect x="314" y="472.15" width="1" height="1.7" fill="#0000ff" shape-rendering="auto"/>
<rect x="317" y="456.65" width="1" height="1.7" fill="#0000ff" shape-rendering="auto"/>
<rect x="318" y="430.0" width="2" height="31.7" fill="#007f00"/>
<rect x="317" y="456.65" width="1" height="1.7" fill="#007f00" shape-rendering="auto"/>
<rect x="320" y="430.15" width="1" height="1.7" fill="#007f00" shape-rendering="auto"/>
<rect x="322" y="403.0" width="2" height="31.7" fill="#007f00"/>
<rect x="321" y="430.15" width="1" height="1.7" fill="#007f00" shape-rendering="auto"/>
<rect x="324" y="403.15" width="1" height="1.7" fill="#007f00" shape-rendering="auto"/>
<rect x="325" y="388.0" width="2" height="32.8" fill="#007f00"/>
<rect x="324" y="403.15" width="1" height="1.7" fill="#007f00" shape-rendering="auto"/>
<rect x="327" y="407.45" width="1" height="1.7" fill="#007f00" shape-rendering="auto"/>
<rect x="329" y="405.8" width="2" height="33.4" fill="#ff0000"/>
<rect x="328" y="407.45" width="1" height="1.7" fill="#ff0000" shape-rendering="auto"/>
<rect x="331" y="421.65" width="1" height="1.7" fill="#ff0000" shape-rendering="auto"/>
<rect x="333" y="404.2" width="2" height="20.8" fill="#007f00"/>
<rect x="332" y="421.65" width="1" height="1.7" fill="#007f00" shape-rendering="auto"/>
<rect x="335" y="410.15" width="1" height="1.7" fill="#007f00" shape-rendering="auto"/>
<rect x="336" y="399.2" width="2" height="25.8" fill="#007f00"/>
<rect x="335" y="410.15" width="1" height="1.7" fill="#007f00" shape-rendering="auto"/>
<rect x="338" y="409.95" width="1" height="1.7" fill="#007f00" shape-rendering="auto"/>
<rect x="340" y="388.0" width="2" height="32.8" fill="#007f00"/>
<rect x="339" y="409.95" width="1" height="1.7" fill="#007f00" shape-rendering="auto"/>
<rect x="342" y="395.85" width="1" height="1.7" fill="#007f00" shape-rendering="auto"/>
<rect x="343" y="375.8" width="2" height="33.0" fill="#007f00"/>
<rect x="342" y="395.85" width="1" height="1.7" fill="#007f00" shape-rendering="auto"/>
<rect x="345" y="389.15" width="1" height="1.7" fill="#007f00" shape-rendering="auto"/>
<rect x="347" y="383.0" width="2" height="17.8" fill="#007f00"/>
<rect x="346" y="389.15" width="1" height="1.7" fill="#007f00" shape-rendering="auto"/>
<rect x="349" y="391.65" width="1" height="1.7" fill="#007f00" shape-rendering="auto"/>
<rect x="350" y="373.0" width="2" height="27.8" fill="#007f00"/>
<rect x="349" y="391.65" width="1" height="1.7" fill="#007f00" shape-rendering="auto"/>
<rect x="352" y="398.35" width="1" height="1.7" fill="#007f00" shape-rendering="auto"/>
<rect x="354" y="385.0" width="2" height="33.0" fill="#ff0000"/>
<rect x="353" y="398.35" width="1" height="1.7" fill="#ff0000" shape-rendering="auto"/>
<rect x="356" y="394.15" width="1" height="1.7" fill="#ff0000" shape-rendering="auto"/>
<rect x="358" y="365.8" width="2" height="35.9" fill="#007f00"/>
<rect x="357" y="394.15" width="1" height="1.7" fill="#007f00" shape-rendering="auto"/>
<rect x="360" y="369.15" width="1" height="1.7" fill="#007f00" shape-rendering="auto"/>
<rect x="361" y="362.0" width="2" height="27.7" fill="#007f00"/>
<rect x="360" y="369.15" width="1" height="1.7" fill="#007f00" shape-rendering="auto"/>
<rect x="363" y="379.15" width="1" height="1.7" fill="#007f00" shape-rendering="auto"/>
<rect x="365" y="380.0" width="2" height="35.0" fill="#ff0000"/>
<rect x="364" y="380.15" width="1" height="1.7" fill="#ff0000" shape-rendering="auto"/>
<rect x="367" y="405.85" width="1" height="1.7" fill="#ff0000" shape-rendering="auto"/>
<rect x="368" y="400.8" width="2" height="38.4" fill="#ff0000"/>
<rect x="367" y="405.85" width="1" height="1.7" fill="#ff0000" shape-rendering="auto"/>
<rect x="370" y="434.15" width="1" height="1.7" fill="#ff0000" shape-rendering="auto"/>
<rect x="372" y="420.8" width="2" height="20.0" fill="#ff0000"/>
<rect x="371" y="434.15" width="1" height="1.7" fill="#ff0000" shape-rendering="auto"/>
<rect x="374" y="421.65" width="1" height="1.7" fill="#ff0000" shape-rendering="auto"/>
<rect x="376" y="408.0" width="2" height="26.7" fill="#007f00"/>
<rect x="375" y="421.65" width="1" height="1.7" fill="#007f00" shape-rendering="auto"/>
<rect x="378" y="429.15" width="1" height="1.7" fill="#007f00" shape-rendering="auto"/>
<rect x="379" y="400.8" width="2" height="33.9" fill="#007f00"/>
<rect x="378" y="429.15" width="1" height="1.7" fill="#007f00" shape-rendering="auto"/>
<rect x="381" y="400.85" width="1" height="1.7" fill="#007f00" shape-rendering="auto"/>
<rect x="383" y="399.2" width="2" height="13.3" fill="#007f00"/>
<rect x="382" y="400.85" width="1" height="1.7" fill="#007f00" shape-rendering="auto"/>
<rect x="385" y="408.15" width="1" height="1.7" fill="#007f00" shape-rendering="auto"/>
<rect x="386" y="409.0" width="2" height="16.0" fill="#ff0000"/>
<rect x="385" y="409.15" width="1" height="1.7" fill="#ff0000" shape-rendering="auto"/>
<rect x="388" y="419.95" width="1" height="1.7" fill="#ff0000" shape-rendering="auto"/>
<rect x="390" y="404.2" width="2" height="20.8" fill="#007f00"/>
<rect x="389" y="419.95" width="1" height="1.7" fill="#007f00" shape-rendering="auto"/>
<rect x="392" y="404.95" width="1" height="1.7" fill="#007f00" shape-rendering="auto"/>
<rect x="393" y="402.0" width="2" height="28.0" fill="#0000ff"/>
<rect x="392" y="404.95" width="1" height="1.7" fill="#0000ff" shape-rendering="auto"/>
<rect x="395" y="427.45" width="1" height="1.7" fill="#0000ff" shape-rendering="auto"/>
<rect x="397" y="423.0" width="2" height="10.8" fill="#ff0000"/>
<rect x="396" y="427.45" width="1" height="1.7" fill="#ff0000" shape-rendering="auto"/>
<rect x="399" y="429.15" width="1" height="1.7" fill="#ff0000" shape-rendering="auto"/>
<rect x="401" y="414.7" width="2" height="19.1" fill="#007f00"/>
<rect x="400" y="429.15" width="1" height="1.7" fill="#007f00" shape-rendering="auto"/>
<rect x="403" y="419.95" width="1" height="1.7" fill="#007f00" shape-rendering="auto"/>
<rect x="404" y="415.0" width="2" height="13.0" fill="#007f00"/>
<rect x="403" y="419.95" width="1" height="1.7" fill="#007f00" shape-rendering="auto"/>
<rect x="406" y="425.85" width="1" height="1.7" fill="#007f00" shape-rendering="auto"/>
<rect x="408" y="423.0" width="2" height="8.7" fill="#ff0000"/>
<rect x="407" y="425.85" width="1" height="1.7" fill="#ff0000" shape-rendering="auto"/>
<rect x="410" y="426.65" width="1" height="1.7" fill="#ff0000" shape-rendering="auto"/>
<rect x="411" y="427.0" width="2" height="21.8" fill="#ff0000"/>
<rect x="410" y="427.15" width="1" height="1.7" fill="#ff0000" shape-rendering="auto"/>
<rect x="413" y="438.35" width="1" height="1.7" fill="#ff0000" shape-rendering="auto"/>
<rect x="415" y="422.0" width="2" height="17.2" fill="#007f00"/>
<rect x="414" y="437.35" width="1" height="1.7" fill="#007f00" shape-rendering="auto"/>
<rect x="417" y="424.15" width="1" height="1.7" fill="#007f00" shape-rendering="auto"/>
<rect x="419" y="410.8" width="2" height="37.2" fill="#0000ff"/>
<rect x="418" y="424.15" width="1" height="1.7" fill="#0000ff" shape-rendering="auto"/>
<rect x="421" y="419.95" width="1" height="1.7" fill="#0000ff" shape-rendering="auto"/>
<rect x="422" y="415.8" width="2" height="14.2" fill="#0000ff"/>
<rect x="421" y="419.95" width="1" height="1.7" fill="#0000ff" shape-rendering="auto"/>
<rect x="424" y="416.65" width="1" height="1.7" fill="#0000ff" shape-rendering="auto"/>
<rect x="426" y="413.0" width="2" height="17.8" fill="#007f00"/>
<rect x="425" y="416.65" width="1" height="1.7" fill="#007f00" shape-rendering="auto"/>
<rect x="428" y="429.15" width="1" height="1.7" fill="#007f00" shape-rendering="auto"/>
<rect x="429" y="420.8" width="2" height="20.0" fill="#ff0000"/>
<rect x="428" y="429.15" width="1" height="1.7" fill="#ff0000" shape-rendering="auto"/>
<rect x="431" y="424.95" width="1" height="1.7" fill="#ff0000" shape-rendering="auto"/>
<rect x="433" y="425.0" width="2" height="33.0" fill="#ff0000"/>
<rect x="432" y="425.15" width="1" height="1.7" fill="#ff0000" shape-rendering="auto"/>
<rect x="435" y="448.35" width="1" height="1.7" fill="#ff0000" shape-rendering="auto"/>
<rect x="436" y="429.2" width="2" height="21.6" fill="#ff0000"/>
<rect x="435" y="448.35" width="1" height="1.7" fill="#ff0000" shape-rendering="auto"/>
<rect x="438" y="429.15" width="1" height="1.7" fill="#ff0000" shape-rendering="auto"/>
<rect x="440" y="376.2" width="2" height="56.3" fill="#007f00"/>
<rect x="439" y="429.15" width="1" height="1.7" fill="#007f00" shape-rendering="auto"/>
<rect x="442" y="384.15" width="1" height="1.7" fill="#007f00" shape-rendering="auto"/>
<rect x="444" y="326.2" width="2" height="70.5" fill="#007f00"/>
<rect x="443" y="384.15" width="1" height="1.7" fill="#007f00" shape-rendering="auto"/>
<rect x="446" y="334.15" width="1" height="1.7" fill="#007f00" shape-rendering="auto"/>
<rect x="447" y="324.2" width="2" height="48.8" fill="#007f00"/>
<rect x="446" y="334.15" width="1" height="1.7" fill="#007f00" shape-rendering="auto"/>
<rect x="449" y="364.15" width="1" height="1.7" fill="#007f00" shape-rendering="auto"/>
<rect x="451" y="350.0" width="2" height="70.0" fill="#ff0000"/>
<rect x="450" y="364.15" width="1" height="1.7" fill="#ff0000" shape-rendering="auto"/>
<rect x="453" y="407.45" width="1" height="1.7" fill="#ff0000" shape-rendering="auto"/>
<rect x="454" y="394.2" width="2" height="30.8" fill="#ff0000"/>
<rect x="453" y="407.45" width="1" height="1.7" fill="#ff0000" shape-rendering="auto"/>
<rect x="456" y="414.95" width="1" height="1.7" fill="#ff0000" shape-rendering="auto"/>
<rect x="458" y="387.0" width="2" height="36.0" fill="#007f00"/>
<rect x="457" y="414.95" width="1" height="1.7" fill="#007f00" shape-rendering="auto"/>
<rect x="460" y="399.15" width="1" height="1.7" fill="#007f00" shape-rendering="auto"/>
<rect x="461" y="362.0" width="2" height="48.8" fill="#007f00"/>
<rect x="460" y="399.15" width="1" height="1.7" fill="#007f00" shape-rendering="auto"/>
<rect x="463" y="392.45" width="1" height="1.7" fill="#007f00" shape-rendering="auto"/>
<rect x="465" y="348.0" width="2" height="55.7" fill="#007f00"/>
<rect x="464" y="392.45" width="1" height="1.7" fill="#007f00" shape-rendering="auto"/>
<rect x="467" y="385.85" width="1" height="1.7" fill="#007f00" shape-rendering="auto"/>
<rect x="469" y="343.0" width="2" height="37.8" fill="#007f00"/>
<rect x="468" y="378.95" width="1" height="1.7" fill="#007f00" shape-rendering="auto"/>
<rect x="471" y="357.45" width="1" height="1.7" fill="#007f00" shape-rendering="auto"/>
<rect x="472" y="352.5" width="2" height="30.5" fill="#ff0000"/>
<rect x="471" y="357.45" width="1" height="1.7" fill="#ff0000" shape-rendering="auto"/>
<rect x="474" y="364.15" width="1" height="1.7" fill="#ff0000" shape-rendering="auto"/>
<rect x="476" y="350.0" width="2" height="23.8" fill="#007f00"/>
<rect x="475" y="364.15" width="1" height="1.7" fill="#007f00" shape-rendering="auto"/>
<rect x="478" y="358.15" width="1" height="1.7" fill="#007f00" shape-rendering="auto"/>
<rect x="479" y="348.0" width="2" height="25.0" fill="#007f00"/>
<rect x="478" y="358.15" width="1" height="1.7" fill="#007f00" shape-rendering="auto"/>
<rect x="481" y="364.15" width="1" height="1.7" fill="#007f00" shape-rendering="auto"/>
<rect x="483" y="364.2" width="2" height="36.6" fill="#ff0000"/>
<rect x="482" y="364.35" width="1" height="1.7" fill="#ff0000" shape-rendering="auto"/>
<rect x="485" y="372.45" width="1" height="1.7" fill="#ff0000" shape-rendering="auto"/>
<rect x="487" y="367.2" width="2" height="22.5" fill="#ff0000"/>
<rect x="486" y="372.45" width="1" height="1.7" fill="#ff0000" shape-rendering="auto"/>
<rect x="489" y="376.65" width="1" height="1.7" fill="#ff0000" shape-rendering="auto"/>
<rect x="490" y="377.2" width="2" height="47.8" fill="#ff0000"/>
<rect x="489" y="377.35" width="1" height="1.7" fill="#ff0000" shape-rendering="auto"/>
<rect x="492" y="415.85" width="1" height="1.7" fill="#ff0000" shape-rendering="auto"/>
<rect x="494" y="408.0" width="2" height="32.8" fill="#ff0000"/>
<rect x="493" y="415.85" width="1" height="1.7" fill="#ff0000" shape-rendering="auto"/>
<rect x="496" y="429.95" width="1" height="1.7" fill="#ff0000" shape-rendering="auto"/>
<rect x="497" y="397.0" width="2" height="39.7" fill="#007f00"/>
<rect x="496" y="429.95" width="1" height="1.7" fill="#007f00" shape-rendering="auto"/>
<rect x="499" y="425.85" width="1" height="1.7" fill="#007f00" shape-rendering="auto"/>
<rect x="501" y="395.0" width="2" height="36.7" fill="#007f00"/>
<rect x="500" y="425.85" width="1" height="1.7" fill="#007f00" shape-rendering="auto"/>
<rect x="503" y="407.45" width="1" height="1.7" fill="#007f00" shape-rendering="auto"/>
<rect x="504" y="397.2" width="2" height="25.8" fill="#007f00"/>
<rect x="503" y="407.45" width="1" height="1.7" fill="#007f00" shape-rendering="auto"/>
<rect x="506" y="407.45" width="1" height="1.7" fill="#007f00" shape-rendering="auto"/>
<rect x="508" y="397.0" width="2" height="32.7" fill="#ff0000"/>
<rect x="507" y="407.45" width="1" height="1.7" fill="#ff0000" shape-rendering="auto"/>
<rect x="510" y="420.85" width="1" height="1.7" fill="#ff0000" shape-rendering="auto"/>
<rect x="512" y="401.3" width="2" height="40.4" fill="#ff0000"/>
<rect x="511" y="420.85" width="1" height="1.7" fill="#ff0000" shape-rendering="auto"/>
<rect x="514" y="414.15" width="1" height="1.7" fill="#ff0000" shape-rendering="auto"/>
<rect x="515" y="402.0" width="2" height="22.7" fill="#ff0000"/>
<rect x="514" y="414.15" width="1" height="1.7" fill="#ff0000" shape-rendering="auto"/>
<rect x="517" y="414.15" width="1" height="1.7" fill="#ff0000" shape-rendering="auto"/>
<rect x="519" y="399.2" width="2" height="21.6" fill="#007f00"/>
<rect x="518" y="414.15" width="1" height="1.7" fill="#007f00" shape-rendering="auto"/>
<rect x="521" y="407.45" width="1" height="1.7" fill="#007f00" shape-rendering="auto"/>
<rect x="522" y="375.8" width="2" height="32.5" fill="#007f00"/>
<rect x="521" y="406.45" width="1" height="1.7" fill="#007f00" shape-rendering="auto"/>
<rect x="524" y="395.85" width="1" height="1.7" fill="#007f00" shape-rendering="auto"/>
<rect x="526" y="360.0" width="2" height="41.3" fill="#007f00"/>
<rect x="525" y="395.85" width="1" height="1.7" fill="#007f00" shape-rendering="auto"/>
<rect x="528" y="379.15" width="1" height="1.7" fill="#007f00" shape-rendering="auto"/>
<rect x="529" y="364.2" width="2" height="18.3" fill="#007f00"/>
<rect x="528" y="379.15" width="1" height="1.7" fill="#007f00" shape-rendering="auto"/>
<rect x="531" y="376.65" width="1" height="1.7" fill="#007f00" shape-rendering="auto"/>
<rect x="533" y="375.8" width="2" height="23.0" fill="#ff0000"/>
<rect x="532" y="376.65" width="1" height="1.7" fill="#ff0000" shape-rendering="auto"/>
<rect x="535" y="389.15" width="1" height="1.7" fill="#ff0000" shape-rendering="auto"/>
<rect x="537" y="373.0" width="2" height="22.8" fill="#007f00"/>
<rect x="536" y="389.15" width="1" height="1.7" fill="#007f00" shape-rendering="auto"/>
<rect x="539" y="375.85" width="1" height="1.7" fill="#007f00" shape-rendering="auto"/>
<rect x="540" y="375.8" width="2" height="17.9" fill="#007f00"/>
<rect x="539" y="375.95" width="1" height="1.7" fill="#007f00" shape-rendering="auto"/>
<rect x="542" y="387.45" width="1" height="1.7" fill="#007f00" shape-rendering="auto"/>
<rect x="544" y="364.2" width="2" height="30.5" fill="#007f00"/>
<rect x="543" y="387.45" width="1" height="1.7" fill="#007f00" shape-rendering="auto"/>
<rect x="546" y="392.85" width="1" height="1.7" fill="#007f00" shape-rendering="auto"/>
<rect x="547" y="390.0" width="2" height="18.0" fill="#ff0000"/>
<rect x="546" y="392.85" width="1" height="1.7" fill="#ff0000" shape-rendering="auto"/>
<rect x="549" y="397.45" width="1" height="1.7" fill="#ff0000" shape-rendering="auto"/>
<rect x="551" y="395.0" width="2" height="14.2" fill="#ff0000"/>
<rect x="550" y="397.45" width="1" height="1.7" fill="#ff0000" shape-rendering="auto"/>
<rect x="553" y="405.85" width="1" height="1.7" fill="#ff0000" shape-rendering="auto"/>
<rect x="555" y="398.8" width="2" height="29.2" fill="#ff0000"/>
<rect x="554" y="405.85" width="1" height="1.7" fill="#ff0000" shape-rendering="auto"/>
<rect x="557" y="421.65" width="1" height="1.7" fill="#ff0000" shape-rendering="auto"/>
<rect x="558" y="416.2" width="2" height="39.8" fill="#ff0000"/>
<rect x="557" y="421.65" width="1" height="1.7" fill="#ff0000" shape-rendering="auto"/>
<rect x="560" y="439.95" width="1" height="1.7" fill="#ff0000" shape-rendering="auto"/>
<rect x="562" y="437.0" width="2" height="29.8" fill="#ff0000"/>
<rect x="561" y="439.95" width="1" height="1.7" fill="#ff0000" shape-rendering="auto"/>
<rect x="564" y="453.45" width="1" height="1.7" fill="#ff0000" shape-rendering="auto"/>
<rect x="565" y="444.0" width="2" height="37.8" fill="#ff0000"/>
<rect x="564" y="453.45" width="1" height="1.7" fill="#ff0000" shape-rendering="auto"/>
<rect x="567" y="477.65" width="1" height="1.7" fill="#ff0000" shape-rendering="auto"/>
<rect x="569" y="465.2" width="2" height="22.8" fill="#ff0000"/>
<rect x="568" y="477.65" width="1" height="1.7" fill="#ff0000" shape-rendering="auto"/>
<rect x="571" y="484.35" width="1" height="1.7" fill="#ff0000" shape-rendering="auto"/>
<rect x="572" y="481.8" width="2" height="16.2" fill="#ff0000"/>
<rect x="571" y="484.35" width="1" height="1.7" fill="#ff0000" shape-rendering="auto"/>
<rect x="574" y="489.35" width="1" height="1.7" fill="#ff0000" shape-rendering="auto"/>
<rect x="576" y="469.0" width="2" height="26.2" fill="#007f00"/>
<rect x="575" y="489.35" width="1" height="1.7" fill="#007f00" shape-rendering="auto"/>
<rect x="578" y="475.15" width="1" height="1.7" fill="#007f00" shape-rendering="auto"/>
<rect x="580" y="461.8" width="2" height="16.7" fill="#007f00"/>
<rect x="579" y="475.15" width="1" height="1.7" fill="#007f00" shape-rendering="auto"/>
<rect x="582" y="468.45" width="1" height="1.7" fill="#007f00" shape-rendering="auto"/>
<rect x="583" y="469.0" width="2" height="12.8" fill="#ff0000"/>
<rect x="582" y="469.15" width="1" height="1.7" fill="#ff0000" shape-rendering="auto"/>
<rect x="585" y="479.35" width="1" height="1.7" fill="#ff0000" shape-rendering="auto"/>
<rect x="587" y="471.8" width="2" height="16.2" fill="#ff0000"/>
<rect x="586" y="479.35" width="1" height="1.7" fill="#ff0000" shape-rendering="auto"/>
<rect x="589" y="474.35" width="1" height="1.7" fill="#ff0000" shape-rendering="auto"/>
<rect x="590" y="473.0" width="2" height="31.8" fill="#ff0000"/>
<rect x="589" y="474.35" width="1" height="1.7" fill="#ff0000" shape-rendering="auto"/>
<rect x="592" y="500.15" width="1" height="1.7" fill="#ff0000" shape-rendering="auto"/>
<rect x="594" y="500.2" width="2" height="7.8" fill="#ff0000"/>
<rect x="593" y="500.35" width="1" height="1.7" fill="#ff0000" shape-rendering="auto"/>
<rect x="596" y="505.95" width="1" height="1.7" fill="#ff0000" shape-rendering="auto"/>
<rect x="597" y="481.0" width="2" height="25.8" fill="#007f00"/>
<rect x="596" y="504.95" width="1" height="1.7" fill="#007f00" shape-rendering="auto"/>
<rect x="599" y="488.45" width="1" height="1.7" fill="#007f00" shape-rendering="auto"/>
<rect x="601" y="481.0" width="2" height="20.8" fill="#007f00"/>
<rect x="600" y="488.45" width="1" height="1.7" fill="#007f00" shape-rendering="auto"/>
<rect x="603" y="499.15" width="1" height="1.7" fill="#007f00" shape-rendering="auto"/>
<rect x="605" y="496.0" width="2" height="13.8" fill="#ff0000"/>
<rect x="604" y="499.15" width="1" height="1.7" fill="#ff0000" shape-rendering="auto"/>
<rect x="607" y="502.65" width="1" height="1.7" fill="#ff0000" shape-rendering="auto"/>
<rect x="608" y="503.0" width="2" height="13.8" fill="#ff0000"/>
<rect x="607" y="503.15" width="1" height="1.7" fill="#ff0000" shape-rendering="auto"/>
<rect x="610" y="509.15" width="1" height="1.7" fill="#ff0000" shape-rendering="auto"/>
<rect x="612" y="506.8" width="2" height="10.0" fill="#ff0000"/>
<rect x="611" y="509.15" width="1" height="1.7" fill="#ff0000" shape-rendering="auto"/>
<rect x="614" y="507.65" width="1" height="1.7" fill="#ff0000" shape-rendering="auto"/>
<rect x="615" y="466.8" width="2" height="43.0" fill="#007f00"/>
<rect x="614" y="507.65" width="1" height="1.7" fill="#007f00" shape-rendering="auto"/>
<rect x="617" y="480.15" width="1" height="1.7" fill="#007f00" shape-rendering="auto"/>
<rect x="619" y="474.0" width="2" height="14.0" fill="#007f00"/>
<rect x="618" y="480.15" width="1" height="1.7" fill="#007f00" shape-rendering="auto"/>
<rect x="621" y="475.95" width="1" height="1.7" fill="#007f00" shape-rendering="auto"/>
<rect x="623" y="474.0" width="2" height="17.0" fill="#ff0000"/>
<rect x="622" y="475.95" width="1" height="1.7" fill="#ff0000" shape-rendering="auto"/>
<rect x="625" y="482.65" width="1" height="1.7" fill="#ff0000" shape-rendering="auto"/>
<rect x="626" y="469.0" width="2" height="24.2" fill="#0000ff"/>
<rect x="625" y="482.65" width="1" height="1.7" fill="#0000ff" shape-rendering="auto"/>
<rect x="628" y="488.45" width="1" height="1.7" fill="#0000ff" shape-rendering="auto"/>
<rect x="630" y="476.8" width="2" height="18.4" fill="#ff0000"/>
<rect x="629" y="488.45" width="1" height="1.7" fill="#ff0000" shape-rendering="auto"/>
<rect x="632" y="479.35" width="1" height="1.7" fill="#ff0000" shape-rendering="auto"/>
<rect x="633" y="455.2" width="2" height="26.6" fill="#007f00"/>
<rect x="632" y="479.35" width="1" height="1.7" fill="#007f00" shape-rendering="auto"/>
<rect x="635" y="456.85" width="1" height="1.7" fill="#007f00" shape-rendering="auto"/>
<rect x="637" y="432.2" width="2" height="30.8" fill="#007f00"/>
<rect x="636" y="456.85" width="1" height="1.7" fill="#007f00" shape-rendering="auto"/>
<rect x="639" y="436.15" width="1" height="1.7" fill="#007f00" shape-rendering="auto"/>
<rect x="640" y="432.2" width="2" height="18.8" fill="#007f00"/>
<rect x="639" y="436.15" width="1" height="1.7" fill="#007f00" shape-rendering="auto"/>
<rect x="642" y="439.95" width="1" height="1.7" fill="#007f00" shape-rendering="auto"/>
<rect x="644" y="433.0" width="2" height="18.8" fill="#ff0000"/>
<rect x="643" y="439.95" width="1" height="1.7" fill="#ff0000" shape-rendering="auto"/>
<rect x="646" y="440.95" width="1" height="1.7" fill="#ff0000" shape-rendering="auto"/>
<rect x="648" y="420.0" width="2" height="21.8" fill="#007f00"/>
<rect x="647" y="439.95" width="1" height="1.7" fill="#007f00" shape-rendering="auto"/>
<rect x="650" y="429.15" width="1" height="1.7" fill="#007f00" shape-rendering="auto"/>
<rect x="651" y="422.0" width="2" height="24.0" fill="#ff0000"/>
<rect x="650" y="429.15" width="1" height="1.7" fill="#ff0000" shape-rendering="auto"/>
<rect x="653" y="422.65" width="1" height="1.7" fill="#ff0000" shape-rendering="auto"/>
<rect x="655" y="409.2" width="2" height="20.5" fill="#007f00"/>
<rect x="654" y="422.65" width="1" height="1.7" fill="#007f00" shape-rendering="auto"/>
<rect x="657" y="409.95" width="1" height="1.7" fill="#007f00" shape-rendering="auto"/>
<rect x="658" y="400.0" width="2" height="41.0" fill="#0000ff"/>
<rect x="657" y="409.95" width="1" height="1.7" fill="#0000ff" shape-rendering="auto"/>
<rect x="660" y="416.65" width="1" height="1.7" fill="#0000ff" shape-rendering="auto"/>
<rect x="662" y="409.2" width="2" height="28.8" fill="#0000ff"/>
<rect x="661" y="416.65" width="1" height="1.7" fill="#0000ff" shape-rendering="auto"/>
<rect x="664" y="428.15" width="1" height="1.7" fill="#0000ff" shape-rendering="auto"/>
<rect x="665" y="404.2" width="2" height="26.6" fill="#007f00"/>
<rect x="664" y="428.15" width="1" height="1.7" fill="#007f00" shape-rendering="auto"/>
<rect x="667" y="419.15" width="1" height="1.7" fill="#007f00" shape-rendering="auto"/>
<rect x="669" y="407.2" width="2" height="23.6" fill="#007f00"/>
<rect x="668" y="419.15" width="1" height="1.7" fill="#007f00" shape-rendering="auto"/>
<rect x="671" y="411.65" width="1" height="1.7" fill="#007f00" shape-rendering="auto"/>
<rect x="673" y="412.0" width="2" height="21.0" fill="#ff0000"/>
<rect x="672" y="412.15" width="1" height="1.7" fill="#ff0000" shape-rendering="auto"/>
<rect x="675" y="424.15" width="1" height="1.7" fill="#ff0000" shape-rendering="auto"/>
<rect x="676" y="424.2" width="2" height="24.8" fill="#ff0000"/>
<rect x="675" y="424.35" width="1" height="1.7" fill="#ff0000" shape-rendering="auto"/>
<rect x="678" y="443.15" width="1" height="1.7" fill="#ff0000" shape-rendering="auto"/>
<rect x="680" y="443.0" width="2" height="16.0" fill="#ff0000"/>
<rect x="679" y="443.15" width="1" height="1.7" fill="#ff0000" shape-rendering="auto"/>
<rect x="682" y="450.95" width="1" height="1.7" fill="#ff0000" shape-rendering="auto"/>
<rect x="683" y="435.0" width="2" height="28.0" fill="#0000ff"/>
<rect x="682" y="450.95" width="1" height="1.7" fill="#0000ff" shape-rendering="auto"/>
<rect x="685" y="447.65" width="1" height="1.7" fill="#0000ff" shape-rendering="auto"/>
<rect x="687" y="427.0" width="2" height="24.0" fill="#007f00"/>
<rect x="686" y="447.65" width="1" height="1.7" fill="#007f00" shape-rendering="auto"/>
<rect x="689" y="446.15" width="1" height="1.7" fill="#007f00" shape-rendering="auto"/>
<rect x="691" y="433.0" width="2" height="18.0" fill="#007f00"/>
<rect x="690" y="446.15" width="1" height="1.7" fill="#007f00" shape-rendering="auto"/>
<rect x="693" y="432.75" width="1" height="1.7" fill="#007f00" shape-rendering="auto"/>
<rect x="694" y="418.0" width="2" height="23.0" fill="#007f00"/>
<rect x="693" y="432.75" width="1" height="1.7" fill="#007f00" shape-rendering="auto"/>
<rect x="696" y="418.35" width="1" height="1.7" fill="#007f00" shape-rendering="auto"/>
<rect x="698" y="419.2" width="2" height="23.8" fill="#ff0000"/>
<rect x="697" y="419.35" width="1" height="1.7" fill="#ff0000" shape-rendering="auto"/>
<rect x="700" y="432.45" width="1" height="1.7" fill="#ff0000" shape-rendering="auto"/>
<rect x="701" y="433.0" width="2" height="13.0" fill="#ff0000"/>
<rect x="700" y="433.15" width="1" height="1.7" fill="#ff0000" shape-rendering="auto"/>
<rect x="703" y="444.15" width="1" height="1.7" fill="#ff0000" shape-rendering="auto"/>
<rect x="705" y="425.8" width="2" height="22.2" fill="#0000ff"/>
<rect x="704" y="444.15" width="1" height="1.7" fill="#0000ff" shape-rendering="auto"/>
<rect x="707" y="425.85" width="1" height="1.7" fill="#0000ff" shape-rendering="auto"/>
<rect x="708" y="409.2" width="2" height="19.6" fill="#007f00"/>
<rect x="707" y="425.85" width="1" height="1.7" fill="#007f00" shape-rendering="auto"/>
<rect x="710" y="414.15" width="1" height="1.7" fill="#007f00" shape-rendering="auto"/>
<rect x="712" y="405.0" width="2" height="13.8" fill="#007f00"/>
<rect x="711" y="414.15" width="1" height="1.7" fill="#007f00" shape-rendering="auto"/>
<rect x="714" y="410.15" width="1" height="1.7" fill="#007f00" shape-rendering="auto"/>
<rect x="716" y="371.0" width="2" height="54.8" fill="#0000ff"/>
<rect x="715" y="410.15" width="1" height="1.7" fill="#0000ff" shape-rendering="auto"/>
<rect x="718" y="374.15" width="1" height="1.7" fill="#0000ff" shape-rendering="auto"/>
<rect x="719" y="363.1" width="2" height="27.7" fill="#007f00"/>
<rect x="718" y="374.15" width="1" height="1.7" fill="#007f00" shape-rendering="auto"/>
<rect x="721" y="385.65" width="1" height="1.7" fill="#007f00" shape-rendering="auto"/>
<rect x="723" y="381.0" width="2" height="15.5" fill="#ff0000"/>
<rect x="722" y="385.65" width="1" height="1.7" fill="#ff0000" shape-rendering="auto"/>
<rect x="725" y="389.15" width="1" height="1.7" fill="#ff0000" shape-rendering="auto"/>
<rect x="726" y="367.0" width="2" height="27.8" fill="#007f00"/>
<rect x="725" y="389.15" width="1" height="1.7" fill="#007f00" shape-rendering="auto"/>
<rect x="728" y="378.15" width="1" height="1.7" fill="#007f00" shape-rendering="auto"/>
<rect x="730" y="374.0" width="2" height="34.7" fill="#ff0000"/>
<rect x="729" y="378.15" width="1" height="1.7" fill="#ff0000" shape-rendering="auto"/>
<rect x="732" y="398.15" width="1" height="1.7" fill="#ff0000" shape-rendering="auto"/>
<rect x="733" y="384.8" width="2" height="21.7" fill="#ff0000"/>
<rect x="732" y="398.15" width="1" height="1.7" fill="#ff0000" shape-rendering="auto"/>
<rect x="735" y="399.15" width="1" height="1.7" fill="#ff0000" shape-rendering="auto"/>
<rect x="737" y="374.0" width="2" height="25.8" fill="#007f00"/>
<rect x="736" y="397.95" width="1" height="1.7" fill="#007f00" shape-rendering="auto"/>
<rect x="739" y="374.15" width="1" height="1.7" fill="#007f00" shape-rendering="auto"/>
<rect x="741" y="354.8" width="2" height="25.9" fill="#007f00"/>
<rect x="740" y="374.15" width="1" height="1.7" fill="#007f00" shape-rendering="auto"/>
<rect x="743" y="355.15" width="1" height="1.7" fill="#007f00" shape-rendering="auto"/>
<rect x="744" y="354.8" width="2" height="23.9" fill="#007f00"/>
<rect x="743" y="355.15" width="1" height="1.7" fill="#007f00" shape-rendering="auto"/>
<rect x="746" y="363.95" width="1" height="1.7" fill="#007f00" shape-rendering="auto"/>
<rect x="748" y="343.2" width="2" height="29.1" fill="#007f00"/>
<rect x="747" y="363.95" width="1" height="1.7" fill="#007f00" shape-rendering="auto"/>
<rect x="750" y="347.35" width="1" height="1.7" fill="#007f00" shape-rendering="auto"/>
<rect x="751" y="335.3" width="2" height="35.4" fill="#007f00"/>
<rect x="750" y="347.35" width="1" height="1.7" fill="#007f00" shape-rendering="auto"/>
<rect x="753" y="349.85" width="1" height="1.7" fill="#007f00" shape-rendering="auto"/>
<rect x="755" y="337.3" width="2" height="25.0" fill="#007f00"/>
<rect x="754" y="349.85" width="1" height="1.7" fill="#007f00" shape-rendering="auto"/>
<rect x="757" y="348.15" width="1" height="1.7" fill="#007f00" shape-rendering="auto"/>
<rect x="759" y="327.0" width="2" height="36.7" fill="#0000ff"/>
<rect x="758" y="348.15" width="1" height="1.7" fill="#0000ff" shape-rendering="auto"/>
<rect x="761" y="328.95" width="1" height="1.7" fill="#0000ff" shape-rendering="auto"/>
<rect x="762" y="329.8" width="2" height="28.9" fill="#0000ff"/>
<rect x="761" y="329.95" width="1" height="1.7" fill="#0000ff" shape-rendering="auto"/>
<rect x="764" y="333.95" width="1" height="1.7" fill="#0000ff" shape-rendering="auto"/>
<rect x="766" y="291.0" width="2" height="47.2" fill="#007f00"/>
<rect x="765" y="333.95" width="1" height="1.7" fill="#007f00" shape-rendering="auto"/>
<rect x="768" y="329.85" width="1" height="1.7" fill="#007f00" shape-rendering="auto"/>
<rect x="769" y="319.0" width="2" height="33.8" fill="#ff0000"/>
<rect x="768" y="329.85" width="1" height="1.7" fill="#ff0000" shape-rendering="auto"/>
<rect x="771" y="341.45" width="1" height="1.7" fill="#ff0000" shape-rendering="auto"/>
<rect x="773" y="329.0" width="2" height="23.8" fill="#ff0000"/>
<rect x="772" y="341.45" width="1" height="1.7" fill="#ff0000" shape-rendering="auto"/>
<rect x="775" y="350.65" width="1" height="1.7" fill="#ff0000" shape-rendering="auto"/>
<rect x="776" y="308.2" width="2" height="46.6" fill="#0000ff"/>
<rect x="775" y="350.65" width="1" height="1.7" fill="#0000ff" shape-rendering="auto"/>
<rect x="778" y="322.35" width="1" height="1.7" fill="#0000ff" shape-rendering="auto"/>
<rect x="780" y="311.0" width="2" height="39.7" fill="#0000ff"/>
<rect x="779" y="322.35" width="1" height="1.7" fill="#0000ff" shape-rendering="auto"/>
<rect x="782" y="337.35" width="1" height="1.7" fill="#0000ff" shape-rendering="auto"/>
<rect x="784" y="337.0" width="2" height="41.7" fill="#ff0000"/>
<rect x="783" y="337.35" width="1" height="1.7" fill="#ff0000" shape-rendering="auto"/>
<rect x="786" y="369.85" width="1" height="1.7" fill="#ff0000" shape-rendering="auto"/>
<rect x="787" y="361.0" width="2" height="67.7" fill="#ff0000"/>
<rect x="786" y="369.85" width="1" height="1.7" fill="#ff0000" shape-rendering="auto"/>
<rect x="789" y="393.95" width="1" height="1.7" fill="#ff0000" shape-rendering="auto"/>
<rect x="791" y="359.0" width="2" height="51.7" fill="#007f00"/>
<rect x="790" y="393.95" width="1" height="1.7" fill="#007f00" shape-rendering="auto"/>
<rect x="793" y="393.15" width="1" height="1.7" fill="#007f00" shape-rendering="auto"/>
<rect x="794" y="384.8" width="2" height="38.0" fill="#ff0000"/>
<rect x="793" y="393.15" width="1" height="1.7" fill="#ff0000" shape-rendering="auto"/>
<rect x="796" y="398.15" width="1" height="1.7" fill="#ff0000" shape-rendering="auto"/>
<rect x="798" y="381.0" width="2" height="46.0" fill="#0000ff"/>
<rect x="797" y="398.15" width="1" height="1.7" fill="#0000ff" shape-rendering="auto"/>
<rect x="800" y="413.95" width="1" height="1.7" fill="#0000ff" shape-rendering="auto"/>
<rect x="801" y="394.8" width="2" height="30.0" fill="#0000ff"/>
<rect x="800" y="413.95" width="1" height="1.7" fill="#0000ff" shape-rendering="auto"/>
<rect x="803" y="413.95" width="1" height="1.7" fill="#0000ff" shape-rendering="auto"/>
<rect x="805" y="404.8" width="2" height="30.0" fill="#ff0000"/>
<rect x="804" y="413.95" width="1" height="1.7" fill="#ff0000" shape-rendering="auto"/>
<rect x="807" y="431.45" width="1" height="1.7" fill="#ff0000" shape-rendering="auto"/>
<rect x="809" y="417.0" width="2" height="20.0" fill="#ff0000"/>
<rect x="808" y="431.45" width="1" height="1.7" fill="#ff0000" shape-rendering="auto"/>
<rect x="811" y="423.95" width="1" height="1.7" fill="#ff0000" shape-rendering="auto"/>
<rect x="812" y="414.8" width="2" height="25.0" fill="#0000ff"/>
<rect x="811" y="423.95" width="1" height="1.7" fill="#0000ff" shape-rendering="auto"/>
<rect x="814" y="437.85" width="1" height="1.7" fill="#0000ff" shape-rendering="auto"/>
<rect x="816" y="413.2" width="2" height="33.8" fill="#0000ff"/>
<rect x="815" y="437.85" width="1" height="1.7" fill="#0000ff" shape-rendering="auto"/>
<rect x="818" y="419.85" width="1" height="1.7" fill="#0000ff" shape-rendering="auto"/>
<rect x="819" y="407.0" width="2" height="21.7" fill="#007f00"/>
<rect x="818" y="419.85" width="1" height="1.7" fill="#007f00" shape-rendering="auto"/>
<rect x="821" y="408.15" width="1" height="1.7" fill="#007f00" shape-rendering="auto"/>
<rect x="823" y="403.2" width="2" height="32.8" fill="#0000ff"/>
<rect x="822" y="408.15" width="1" height="1.7" fill="#0000ff" shape-rendering="auto"/>
<rect x="825" y="433.95" width="1" height="1.7" fill="#0000ff" shape-rendering="auto"/>
<rect x="827" y="429.0" width="2" height="18.0" fill="#ff0000"/>
<rect x="826" y="433.95" width="1" height="1.7" fill="#ff0000" shape-rendering="auto"/>
<rect x="829" y="434.85" width="1" height="1.7" fill="#ff0000" shape-rendering="auto"/>
<rect x="830" y="433.2" width="2" height="25.3" fill="#ff0000"/>
<rect x="829" y="434.85" width="1" height="1.7" fill="#ff0000" shape-rendering="auto"/>
<rect x="832" y="454.15" width="1" height="1.7" fill="#ff0000" shape-rendering="auto"/>
<rect x="834" y="445.0" width="2" height="23.0" fill="#ff0000"/>
<rect x="833" y="454.15" width="1" height="1.7" fill="#ff0000" shape-rendering="auto"/>
<rect x="836" y="465.65" width="1" height="1.7" fill="#ff0000" shape-rendering="auto"/>
<rect x="837" y="449.2" width="2" height="21.6" fill="#ff0000"/>
<rect x="836" y="465.65" width="1" height="1.7" fill="#ff0000" shape-rendering="auto"/>
<rect x="839" y="454.15" width="1" height="1.7" fill="#ff0000" shape-rendering="auto"/>
<rect x="841" y="451.2" width="2" height="21.3" fill="#ff0000"/>
<rect x="840" y="454.15" width="1" height="1.7" fill="#ff0000" shape-rendering="auto"/>
<rect x="843" y="459.95" width="1" height="1.7" fill="#ff0000" shape-rendering="auto"/>
<rect x="844" y="459.2" width="2" height="15.5" fill="#ff0000"/>
<rect x="843" y="459.95" width="1" height="1.7" fill="#ff0000" shape-rendering="auto"/>
<rect x="846" y="472.45" width="1" height="1.7" fill="#ff0000" shape-rendering="auto"/>
<rect x="848" y="467.0" width="2" height="19.7" fill="#ff0000"/>
<rect x="847" y="472.45" width="1" height="1.7" fill="#ff0000" shape-rendering="auto"/>
<rect x="850" y="474.15" width="1" height="1.7" fill="#ff0000" shape-rendering="auto"/>
<rect x="852" y="455.0" width="2" height="21.7" fill="#007f00"/>
<rect x="851" y="474.15" width="1" height="1.7" fill="#007f00" shape-rendering="auto"/>
<rect x="854" y="454.95" width="1" height="1.7" fill="#007f00" shape-rendering="auto"/>
<rect x="855" y="441.0" width="2" height="17.5" fill="#007f00"/>
<rect x="854" y="454.95" width="1" height="1.7" fill="#007f00" shape-rendering="auto"/>
<rect x="857" y="448.35" width="1" height="1.7" fill="#007f00" shape-rendering="auto"/>
<rect x="859" y="441.0" width="2" height="31.5" fill="#ff0000"/>
<rect x="858" y="448.35" width="1" height="1.7" fill="#ff0000" shape-rendering="auto"/>
<rect x="861" y="469.95" width="1" height="1.7" fill="#ff0000" shape-rendering="auto"/>
<rect x="862" y="451.2" width="2" height="20.5" fill="#ff0000"/>
<rect x="861" y="469.85" width="1" height="1.7" fill="#ff0000" shape-rendering="auto"/>
<rect x="864" y="451.65" width="1" height="1.7" fill="#ff0000" shape-rendering="auto"/>
<rect x="866" y="441.0" width="2" height="15.8" fill="#007f00"/>
<rect x="865" y="451.65" width="1" height="1.7" fill="#007f00" shape-rendering="auto"/>
<rect x="868" y="443.95" width="1" height="1.7" fill="#007f00" shape-rendering="auto"/>
<rect x="869" y="433.2" width="2" height="27.8" fill="#0000ff"/>
<rect x="868" y="443.95" width="1" height="1.7" fill="#0000ff" shape-rendering="auto"/>
<rect x="871" y="455.75" width="1" height="1.7" fill="#0000ff" shape-rendering="auto"/>
<rect x="873" y="445.0" width="2" height="16.0" fill="#0000ff"/>
<rect x="872" y="455.75" width="1" height="1.7" fill="#0000ff" shape-rendering="auto"/>
<rect x="875" y="447.45" width="1" height="1.7" fill="#0000ff" shape-rendering="auto"/>
<rect x="877" y="439.0" width="2" height="17.8" fill="#007f00"/>
<rect x="876" y="447.45" width="1" height="1.7" fill="#007f00" shape-rendering="auto"/>
<rect x="879" y="449.45" width="1" height="1.7" fill="#007f00" shape-rendering="auto"/>
<rect x="880" y="449.2" width="2" height="15.8" fill="#ff0000"/>
<rect x="879" y="449.45" width="1" height="1.7" fill="#ff0000" shape-rendering="auto"/>
<rect x="882" y="455.75" width="1" height="1.7" fill="#ff0000" shape-rendering="auto"/>
<rect x="884" y="437.0" width="2" height="36.0" fill="#0000ff"/>
<rect x="883" y="455.75" width="1" height="1.7" fill="#0000ff" shape-rendering="auto"/>
<rect x="886" y="465.85" width="1" height="1.7" fill="#0000ff" shape-rendering="auto"/>
<rect x="887" y="465.8" width="2" height="15.0" fill="#ff0000"/>
<rect x="886" y="465.95" width="1" height="1.7" fill="#ff0000" shape-rendering="auto"/>
<rect x="889" y="474.15" width="1" height="1.7" fill="#ff0000" shape-rendering="auto"/>
<rect x="891" y="456.2" width="2" height="24.6" fill="#007f00"/>
<rect x="890" y="474.15" width="1" height="1.7" fill="#007f00" shape-rendering="auto"/>
<rect x="893" y="455.85" width="1" height="1.7" fill="#007f00" shape-rendering="auto"/>
<rect x="895" y="456.2" width="2" height="11.3" fill="#007f00"/>
<rect x="894" y="456.35" width="1" height="1.7" fill="#007f00" shape-rendering="auto"/>
<rect x="897" y="461.65" width="1" height="1.7" fill="#007f00" shape-rendering="auto"/>
<rect x="898" y="459.2" width="2" height="23.3" fill="#ff0000"/>
<rect x="897" y="461.65" width="1" height="1.7" fill="#ff0000" shape-rendering="auto"/>
<rect x="900" y="479.95" width="1" height="1.7" fill="#ff0000" shape-rendering="auto"/>
<rect x="902" y="477.0" width="2" height="16.0" fill="#ff0000"/>
<rect x="901" y="479.95" width="1" height="1.7" fill="#ff0000" shape-rendering="auto"/>
<rect x="904" y="485.85" width="1" height="1.7" fill="#ff0000" shape-rendering="auto"/>
<rect x="905" y="477.0" width="2" height="20.2" fill="#ff0000"/>
<rect x="904" y="485.85" width="1" height="1.7" fill="#ff0000" shape-rendering="auto"/>
<rect x="907" y="489.95" width="1" height="1.7" fill="#ff0000" shape-rendering="auto"/>
<rect x="909" y="485.0" width="2" height="9.2" fill="#ff0000"/>
<rect x="908" y="489.95" width="1" height="1.7" fill="#ff0000" shape-rendering="auto"/>
<rect x="911" y="490.85" width="1" height="1.7" fill="#ff0000" shape-rendering="auto"/>
<rect x="912" y="490.8" width="2" height="12.2" fill="#ff0000"/>
<rect x="911" y="490.95" width="1" height="1.7" fill="#ff0000" shape-rendering="auto"/>
<rect x="914" y="497.45" width="1" height="1.7" fill="#ff0000" shape-rendering="auto"/>
<rect x="916" y="497.2" width="2" height="11.6" fill="#ff0000"/>
<rect x="915" y="497.45" width="1" height="1.7" fill="#ff0000" shape-rendering="auto"/>
<rect x="918" y="499.95" width="1" height="1.7" fill="#ff0000" shape-rendering="auto"/>
<rect x="920" y="493.0" width="2" height="10.8" fill="#007f00"/>
<rect x="919" y="499.95" width="1" height="1.7" fill="#007f00" shape-rendering="auto"/>
<rect x="922" y="495.85" width="1" height="1.7" fill="#007f00" shape-rendering="auto"/>
<rect x="923" y="495.8" width="2" height="15.0" fill="#ff0000"/>
<rect x="922" y="495.95" width="1" height="1.7" fill="#ff0000" shape-rendering="auto"/>
<rect x="925" y="507.45" width="1" height="1.7" fill="#ff0000" shape-rendering="auto"/>
<rect x="927" y="499.2" width="2" height="13.8" fill="#ff0000"/>
<rect x="926" y="507.45" width="1" height="1.7" fill="#ff0000" shape-rendering="auto"/>
<rect x="929" y="503.35" width="1" height="1.7" fill="#ff0000" shape-rendering="auto"/>
<rect x="930" y="504.2" width="2" height="6.6" fill="#ff0000"/>
<rect x="929" y="504.35" width="1" height="1.7" fill="#ff0000" shape-rendering="auto"/>
<rect x="932" y="505.85" width="1" height="1.7" fill="#ff0000" shape-rendering="auto"/>
<rect x="934" y="505.0" width="2" height="15.8" fill="#ff0000"/>
<rect x="933" y="505.85" width="1" height="1.7" fill="#ff0000" shape-rendering="auto"/>
<rect x="936" y="517.45" width="1" height="1.7" fill="#ff0000" shape-rendering="auto"/>
<rect x="937" y="513.0" width="2" height="6.7" fill="#ff0000"/>
<rect x="936" y="517.45" width="1" height="1.7" fill="#ff0000" shape-rendering="auto"/>
<rect x="939" y="515.85" width="1" height="1.7" fill="#ff0000" shape-rendering="auto"/>
<rect x="941" y="515.8" width="2" height="11.2" fill="#ff0000"/>
<rect x="940" y="515.95" width="1" height="1.7" fill="#ff0000" shape-rendering="auto"/>
<rect x="943" y="524.95" width="1" height="1.7" fill="#ff0000" shape-rendering="auto"/>
<rect x="945" y="520.8" width="2" height="7.2" fill="#ff0000"/>
<rect x="944" y="524.95" width="1" height="1.7" fill="#ff0000" shape-rendering="auto"/>
<rect x="947" y="521.65" width="1" height="1.7" fill="#ff0000" shape-rendering="auto"/>
<rect x="948" y="512.0" width="2" height="13.0" fill="#007f00"/>
<rect x="947" y="521.65" width="1" height="1.7" fill="#007f00" shape-rendering="auto"/>
<rect x="950" y="511.65" width="1" height="1.7" fill="#007f00" shape-rendering="auto"/>
<rect x="952" y="498.8" width="2" height="24.2" fill="#007f00"/>
<rect x="951" y="511.65" width="1" height="1.7" fill="#007f00" shape-rendering="auto"/>
<rect x="954" y="510.85" width="1" height="1.7" fill="#007f00" shape-rendering="auto"/>
<rect x="955" y="500.8" width="2" height="15.9" fill="#007f00"/>
<rect x="954" y="510.85" width="1" height="1.7" fill="#007f00" shape-rendering="auto"/>
<rect x="957" y="505.85" width="1" height="1.7" fill="#007f00" shape-rendering="auto"/>
<rect x="959" y="473.0" width="2" height="37.0" fill="#007f00"/>
<rect x="958" y="505.85" width="1" height="1.7" fill="#007f00" shape-rendering="auto"/>
<rect x="961" y="475.15" width="1" height="1.7" fill="#007f00" shape-rendering="auto"/>
<rect x="963" y="472.0" width="2" height="13.7" fill="#007f00"/>
<rect x="962" y="475.15" width="1" height="1.7" fill="#007f00" shape-rendering="auto"/>
<rect x="965" y="483.15" width="1" height="1.7" fill="#007f00" shape-rendering="auto"/>
<rect x="966" y="469.3" width="2" height="17.2" fill="#0000ff"/>
<rect x="965" y="483.15" width="1" height="1.7" fill="#0000ff" shape-rendering="auto"/>
<rect x="968" y="471.35" width="1" height="1.7" fill="#0000ff" shape-rendering="auto"/>
<rect x="970" y="471.2" width="2" height="15.3" fill="#0000ff"/>
<rect x="969" y="471.35" width="1" height="1.7" fill="#0000ff" shape-rendering="auto"/>
<rect x="972" y="471.55" width="1" height="1.7" fill="#0000ff" shape-rendering="auto"/>
<rect x="973" y="472.0" width="2" height="14.5" fill="#0000ff"/>
<rect x="972" y="472.15" width="1" height="1.7" fill="#0000ff" shape-rendering="auto"/>
<rect x="975" y="471.55" width="1" height="1.7" fill="#0000ff" shape-rendering="auto"/>
<rect x="977" y="471.2" width="2" height="16.3" fill="#0000ff"/>
<rect x="976" y="471.55" width="1" height="1.7" fill="#0000ff" shape-rendering="auto"/>
<rect x="979" y="485.65" width="1" height="1.7" fill="#0000ff" shape-rendering="auto"/>
<rect x="980" y="483.2" width="2" height="11.6" fill="#ff0000"/>
<rect x="979" y="485.65" width="1" height="1.7" fill="#ff0000" shape-rendering="auto"/>
<rect x="982" y="490.15" width="1" height="1.7" fill="#ff0000" shape-rendering="auto"/>
<rect x="984" y="477.2" width="2" height="21.6" fill="#0000ff"/>
<rect x="983" y="490.15" width="1" height="1.7" fill="#0000ff" shape-rendering="auto"/>
<rect x="986" y="493.65" width="1" height="1.7" fill="#0000ff" shape-rendering="auto"/>
<rect x="988" y="489.3" width="2" height="9.5" fill="#0000ff"/>
<rect x="987" y="493.65" width="1" height="1.7" fill="#0000ff" shape-rendering="auto"/>
<rect x="990" y="491.65" width="1" height="1.7" fill="#0000ff" shape-rendering="auto"/>
<rect x="991" y="482.3" width="2" height="10.5" fill="#007f00"/>
<rect x="990" y="490.95" width="1" height="1.7" fill="#007f00" shape-rendering="auto"/>
<rect x="993" y="482.15" width="1" height="1.7" fill="#007f00" shape-rendering="auto"/>
<rect x="995" y="479.4" width="2" height="11.3" fill="#007f00"/>
<rect x="994" y="482.15" width="1" height="1.7" fill="#007f00" shape-rendering="auto"/>
<rect x="997" y="486.15" width="1" height="1.7" fill="#007f00" shape-rendering="auto"/>
<rect x="998" y="477.2" width="2" height="11.4" fill="#007f00"/>
<rect x="997" y="486.15" width="1" height="1.7" fill="#007f00" shape-rendering="auto"/>
<rect x="1000" y="479.85" width="1" height="1.7" fill="#007f00" shape-rendering="auto"/>
<rect x="1002" y="473.4" width="2" height="17.2" fill="#0000ff"/>
<rect x="1001" y="479.85" width="1" height="1.7" fill="#0000ff" shape-rendering="auto"/>
<rect x="1004" y="483.55" width="1" height="1.7" fill="#0000ff" shape-rendering="auto"/>
<rect x="1005" y="479.5" width="2" height="25.5" fill="#ff0000"/>
<rect x="1004" y="483.55" width="1" height="1.7" fill="#ff0000" shape-rendering="auto"/>
<rect x="1007" y="489.15" width="1" height="1.7" fill="#ff0000" shape-rendering="auto"/>
<rect x="1009" y="483.3" width="2" height="13.1" fill="#ff0000"/>
<rect x="1008" y="489.15" width="1" height="1.7" fill="#ff0000" shape-rendering="auto"/>
<rect x="1011" y="485.65" width="1" height="1.7" fill="#ff0000" shape-rendering="auto"/>
<rect x="1013" y="480.2" width="2" height="12.3" fill="#007f00"/>
<rect x="1012" y="485.65" width="1" height="1.7" fill="#007f00" shape-rendering="auto"/>
<rect x="1015" y="479.85" width="1" height="1.7" fill="#007f00" shape-rendering="auto"/>
<rect x="1016" y="459.4" width="2" height="23.1" fill="#007f00"/>
<rect x="1015" y="479.85" width="1" height="1.7" fill="#007f00" shape-rendering="auto"/>
<rect x="1018" y="462.15" width="1" height="1.7" fill="#007f00" shape-rendering="auto"/>
<rect x="1020" y="457.3" width="2" height="11.2" fill="#007f00"/>
<rect x="1019" y="462.15" width="1" height="1.7" fill="#007f00" shape-rendering="auto"/>
<rect x="1022" y="466.35" width="1" height="1.7" fill="#007f00" shape-rendering="auto"/>
<rect x="1023" y="455.0" width="2" height="19.5" fill="#0000ff"/>
<rect x="1022" y="466.35" width="1" height="1.7" fill="#0000ff" shape-rendering="auto"/>
<rect x="1025" y="472.15" width="1" height="1.7" fill="#0000ff" shape-rendering="auto"/>
<rect x="1027" y="469.3" width="2" height="4.4" fill="#0000ff"/>
<rect x="1026" y="471.90" width="1" height="1.7" fill="#0000ff" shape-rendering="auto"/>
<rect x="1029" y="468.95" width="1" height="1.7" fill="#0000ff" shape-rendering="auto"/>
</svg>
<div class="abs" style="left:949px;top:467px;width:100px;height:37px;box-sizing:border-box;background:rgba(255,10,255,0.2);border:1px solid rgba(240,60,240,0.72)"></div>
<div class="abs" id="cons" style="left:1057px;top:469px;font-size:25px;line-height:30px;color:#111;white-space:nowrap;letter-spacing:0.27px">Consolidation</div>
<div class="abs" style="left:1310px;top:276px;width:14px;height:30px;box-sizing:border-box;background:#fdfdfd;border:1px solid #c9c9c9;border-radius:3px 0 0 3px"></div>
<svg class="abs" style="left:1310px;top:276px" width="13" height="29" viewBox="1310 276 13 29"><path d="M1319 286.5 L1314.6 291 L1319 295.5" fill="none" stroke="#828282" stroke-width="2.4"/></svg>
<div class="abs" style="left:1240px;top:561px;width:52px;height:16px;box-sizing:border-box;background:#fafafa;border:1px solid #cfcfcf;overflow:hidden;font-size:11px;line-height:14px;white-space:nowrap;padding-left:1px">0.0089768</div>
<div class="abs" style="left:1292px;top:561px;width:29px;height:16px;box-sizing:border-box;background:#f6f6f6;border:1px solid #cfcfcf;border-left:none"></div>
<div class="abs" style="left:1296px;top:564px;font-size:8px;line-height:9px;font-weight:bold;color:#444;letter-spacing:-0.3px">XY</div>
<svg class="abs" style="left:1308px;top:561px" width="14" height="15" viewBox="1308 561 14 15">
<rect x="1310.2" y="567" width="8.6" height="7" rx="0.8" fill="#4a4a4a"/>
<path d="M1314.2 567 v-2 a2.2 2.2 0 0 1 4.4 0 v1" fill="none" stroke="#4a4a4a" stroke-width="1.2"/>
<path d="M1313.4 570 h2.4 l-1.2 1.5 z" fill="#f0f0f0"/>
</svg>
</body></html>
